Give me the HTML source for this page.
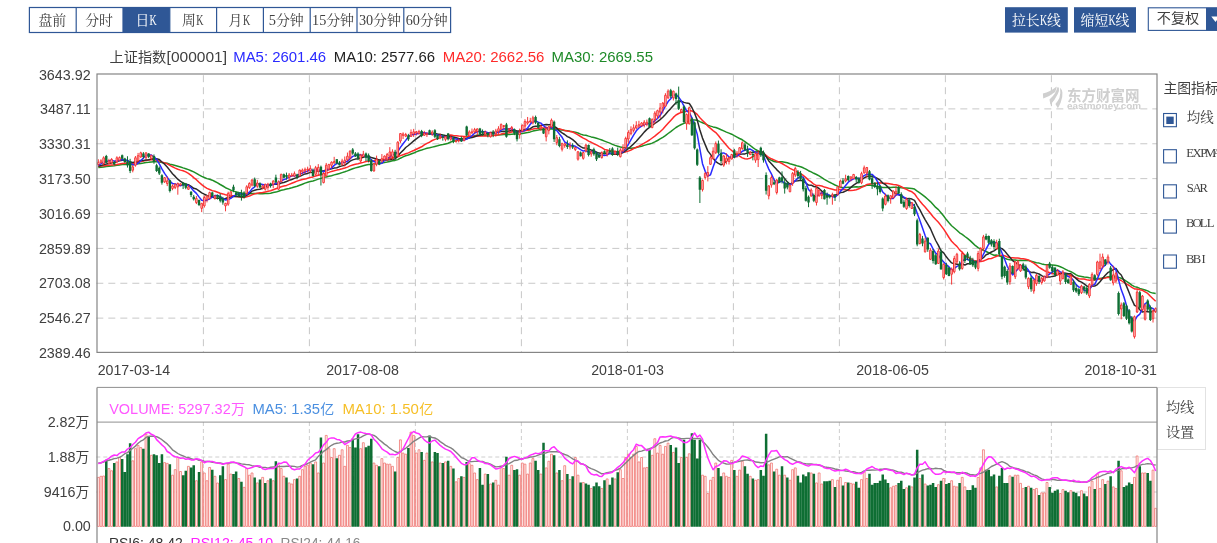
<!DOCTYPE html>
<html><head><meta charset="utf-8"><title>K</title>
<style>html,body{margin:0;padding:0;background:#fff;overflow:hidden}svg{display:block;position:absolute;left:0;top:0;will-change:transform}</style>
</head><body>
<svg width="1217" height="543" viewBox="0 0 1217 543">
<line x1="96.3" y1="108.88" x2="1157" y2="108.88" stroke="#c8c8c8" stroke-width="1" stroke-dasharray="7 5"/>
<line x1="96.3" y1="143.75" x2="1157" y2="143.75" stroke="#c8c8c8" stroke-width="1" stroke-dasharray="7 5"/>
<line x1="96.3" y1="178.62" x2="1157" y2="178.62" stroke="#c8c8c8" stroke-width="1" stroke-dasharray="7 5"/>
<line x1="96.3" y1="213.50" x2="1157" y2="213.50" stroke="#c8c8c8" stroke-width="1" stroke-dasharray="7 5"/>
<line x1="96.3" y1="248.38" x2="1157" y2="248.38" stroke="#c8c8c8" stroke-width="1" stroke-dasharray="7 5"/>
<line x1="96.3" y1="283.25" x2="1157" y2="283.25" stroke="#c8c8c8" stroke-width="1" stroke-dasharray="7 5"/>
<line x1="96.3" y1="318.12" x2="1157" y2="318.12" stroke="#c8c8c8" stroke-width="1" stroke-dasharray="7 5"/>
<line x1="203.40" y1="75.2" x2="203.40" y2="353" stroke="#c8c8c8" stroke-width="1" stroke-dasharray="7 5"/>
<line x1="203.40" y1="422" x2="203.40" y2="526.7" stroke="#c8c8c8" stroke-width="0.9" stroke-dasharray="4 3"/>
<line x1="309.40" y1="75.2" x2="309.40" y2="353" stroke="#c8c8c8" stroke-width="1" stroke-dasharray="7 5"/>
<line x1="309.40" y1="422" x2="309.40" y2="526.7" stroke="#c8c8c8" stroke-width="0.9" stroke-dasharray="4 3"/>
<line x1="415.40" y1="75.2" x2="415.40" y2="353" stroke="#c8c8c8" stroke-width="1" stroke-dasharray="7 5"/>
<line x1="415.40" y1="422" x2="415.40" y2="526.7" stroke="#c8c8c8" stroke-width="0.9" stroke-dasharray="4 3"/>
<line x1="521.40" y1="75.2" x2="521.40" y2="353" stroke="#c8c8c8" stroke-width="1" stroke-dasharray="7 5"/>
<line x1="521.40" y1="422" x2="521.40" y2="526.7" stroke="#c8c8c8" stroke-width="0.9" stroke-dasharray="4 3"/>
<line x1="627.40" y1="75.2" x2="627.40" y2="353" stroke="#c8c8c8" stroke-width="1" stroke-dasharray="7 5"/>
<line x1="627.40" y1="422" x2="627.40" y2="526.7" stroke="#c8c8c8" stroke-width="0.9" stroke-dasharray="4 3"/>
<line x1="733.40" y1="75.2" x2="733.40" y2="353" stroke="#c8c8c8" stroke-width="1" stroke-dasharray="7 5"/>
<line x1="733.40" y1="422" x2="733.40" y2="526.7" stroke="#c8c8c8" stroke-width="0.9" stroke-dasharray="4 3"/>
<line x1="839.40" y1="75.2" x2="839.40" y2="353" stroke="#c8c8c8" stroke-width="1" stroke-dasharray="7 5"/>
<line x1="839.40" y1="422" x2="839.40" y2="526.7" stroke="#c8c8c8" stroke-width="0.9" stroke-dasharray="4 3"/>
<line x1="945.40" y1="75.2" x2="945.40" y2="353" stroke="#c8c8c8" stroke-width="1" stroke-dasharray="7 5"/>
<line x1="945.40" y1="422" x2="945.40" y2="526.7" stroke="#c8c8c8" stroke-width="0.9" stroke-dasharray="4 3"/>
<line x1="1051.40" y1="75.2" x2="1051.40" y2="353" stroke="#c8c8c8" stroke-width="1" stroke-dasharray="7 5"/>
<line x1="1051.40" y1="422" x2="1051.40" y2="526.7" stroke="#c8c8c8" stroke-width="0.9" stroke-dasharray="4 3"/>
<line x1="96.3" y1="457.00" x2="1157" y2="457.00" stroke="#c8c8c8" stroke-width="0.9" stroke-dasharray="4 3"/>
<line x1="96.3" y1="492.00" x2="1157" y2="492.00" stroke="#c8c8c8" stroke-width="0.9" stroke-dasharray="4 3"/>
<text x="1067" y="100.6" font-family="'Liberation Sans', 'Noto Sans CJK SC', sans-serif" font-size="14.5" font-weight="bold" fill="#cfcfcf" textLength="72.6" lengthAdjust="spacingAndGlyphs">东方财富网</text>
<text x="1067" y="109" font-family="Liberation Sans, sans-serif" font-size="8.2" font-weight="bold" fill="#cfcfcf" textLength="74" lengthAdjust="spacingAndGlyphs">eastmoney.com</text>
<path d="M1042.9 93.5Q1050 92 1056.7 86.6Q1056.5 89.5 1055.1 91.9Q1050 96 1043.2 98.6ZM1057.6 86.9L1058.9 87.8Q1059.5 91 1057.9 93.8Q1055 100 1050.4 104.7L1049.5 99.4Q1053 96.5 1054.8 93.5Q1056.7 90 1057.6 86.9ZM1060.1 87.8Q1062 89.5 1062.4 92.5Q1062.9 97 1060.7 102.5Q1059.5 105.5 1057.9 108.2L1055.4 104.1Q1058 101 1059.4 98Q1060.9 94 1060.1 87.8Z" fill="#cfcfcf"/>
<path d="M98.3 167.6 L101.0 167.3 L103.6 166.9 L106.3 166.6 L108.9 166.3 L111.6 165.9 L114.2 165.7 L116.9 165.3 L119.5 164.9 L122.2 164.6 L124.8 164.4 L127.5 164.3 L130.1 164.4 L132.8 164.4 L135.4 164.2 L138.1 163.8 L140.7 163.4 L143.4 163.1 L146.0 162.6 L148.7 162.3 L151.3 161.9 L154.0 161.7 L156.6 161.8 L159.3 162.0 L161.9 162.5 L164.6 162.9 L167.2 163.3 L169.9 164.2 L172.5 164.8 L175.2 165.5 L177.8 166.2 L180.5 167.0 L183.1 167.9 L185.8 168.7 L188.4 169.6 L191.1 170.8 L193.7 171.9 L196.4 173.3 L199.0 174.9 L201.7 176.4 L204.3 177.5 L207.0 178.6 L209.6 179.3 L212.3 180.2 L214.9 181.5 L217.6 182.9 L220.2 184.5 L222.9 186.0 L225.5 187.7 L228.2 188.9 L230.8 190.2 L233.5 191.1 L236.1 191.9 L238.8 192.6 L241.4 193.1 L244.1 193.8 L246.7 194.0 L249.4 193.7 L252.0 193.5 L254.7 193.6 L257.3 193.6 L260.0 193.7 L262.6 193.7 L265.3 193.6 L267.9 193.5 L270.6 193.2 L273.2 192.6 L275.9 192.1 L278.5 191.3 L281.2 190.3 L283.8 189.7 L286.5 189.0 L289.1 188.5 L291.8 187.8 L294.4 187.0 L297.1 186.3 L299.7 185.3 L302.4 184.2 L305.0 183.1 L307.7 182.3 L310.3 181.5 L313.0 181.0 L315.6 180.1 L318.3 179.1 L320.9 178.4 L323.6 177.6 L326.2 176.9 L328.9 176.3 L331.5 175.7 L334.2 174.9 L336.8 174.2 L339.5 173.5 L342.1 172.6 L344.8 171.8 L347.4 170.9 L350.1 169.7 L352.7 168.8 L355.4 167.9 L358.0 167.2 L360.7 166.5 L363.3 165.8 L366.0 165.1 L368.6 164.6 L371.3 164.5 L373.9 164.2 L376.6 163.6 L379.2 163.4 L381.9 163.0 L384.5 162.6 L387.2 162.1 L389.8 161.5 L392.5 160.7 L395.1 160.4 L397.8 159.6 L400.4 158.2 L403.1 156.9 L405.7 155.8 L408.4 155.0 L411.0 154.0 L413.7 153.0 L416.3 151.9 L419.0 150.8 L421.6 150.0 L424.3 149.1 L426.9 148.3 L429.6 147.8 L432.2 147.1 L434.9 146.4 L437.5 145.8 L440.2 145.1 L442.8 144.6 L445.5 143.9 L448.1 143.2 L450.8 142.0 L453.4 141.3 L456.1 140.7 L458.7 139.9 L461.4 139.3 L464.0 138.7 L466.7 138.0 L469.3 137.4 L472.0 136.7 L474.6 135.8 L477.3 135.3 L479.9 135.4 L482.6 135.3 L485.2 135.3 L487.9 135.1 L490.5 135.1 L493.2 135.2 L495.8 135.2 L498.5 135.1 L501.1 134.7 L503.8 134.4 L506.4 134.6 L509.1 134.4 L511.7 134.2 L514.4 134.1 L517.0 134.1 L519.7 134.0 L522.3 133.6 L525.0 133.0 L527.6 132.5 L530.3 131.9 L532.9 131.1 L535.6 130.5 L538.2 130.1 L540.9 129.6 L543.5 129.5 L546.2 129.3 L548.8 129.1 L551.5 128.7 L554.1 129.0 L556.8 129.3 L559.4 129.7 L562.1 130.0 L564.7 130.4 L567.4 130.8 L570.0 131.3 L572.7 131.7 L575.3 132.2 L578.0 133.0 L580.6 134.1 L583.3 135.0 L585.9 135.2 L588.6 136.1 L591.2 136.9 L593.9 137.6 L596.5 138.3 L599.2 139.1 L601.8 140.0 L604.5 141.1 L607.1 142.1 L609.8 143.1 L612.4 144.4 L615.1 145.4 L617.7 146.2 L620.4 147.0 L623.0 147.5 L625.7 147.8 L628.3 148.0 L631.0 148.3 L633.6 147.9 L636.3 147.5 L638.9 146.8 L641.6 146.2 L644.2 145.4 L646.9 144.6 L649.5 144.0 L652.2 143.1 L654.8 141.9 L657.5 140.5 L660.1 138.9 L662.8 137.3 L665.4 135.6 L668.1 133.5 L670.7 131.6 L673.4 129.5 L676.0 127.5 L678.7 125.9 L681.3 124.5 L684.0 123.4 L686.6 122.2 L689.3 120.7 L691.9 120.0 L694.6 119.9 L697.2 120.3 L699.9 121.6 L702.5 122.7 L705.2 123.9 L707.8 125.2 L710.5 126.1 L713.1 126.9 L715.8 127.5 L718.4 128.5 L721.1 129.7 L723.7 130.9 L726.4 132.1 L729.0 133.1 L731.7 134.2 L734.3 135.7 L737.0 137.1 L739.6 138.5 L742.3 139.8 L744.9 141.6 L747.6 143.7 L750.2 145.5 L752.9 147.7 L755.5 149.5 L758.2 151.0 L760.8 152.5 L763.5 153.8 L766.1 156.3 L768.8 158.9 L771.4 160.3 L774.1 161.5 L776.7 162.0 L779.4 161.8 L782.0 161.8 L784.7 162.3 L787.3 162.8 L790.0 163.7 L792.6 164.5 L795.3 165.3 L797.9 166.1 L800.6 166.7 L803.2 167.8 L805.9 169.2 L808.5 170.7 L811.2 171.9 L813.8 173.3 L816.5 174.5 L819.1 175.9 L821.8 177.6 L824.4 179.3 L827.1 180.8 L829.7 182.3 L832.4 183.6 L835.0 185.0 L837.7 186.1 L840.3 187.0 L843.0 187.8 L845.6 187.4 L848.3 187.2 L850.9 187.2 L853.6 186.9 L856.2 186.8 L858.9 186.9 L861.5 186.6 L864.2 185.9 L866.8 185.2 L869.5 185.0 L872.1 185.4 L874.8 186.0 L877.4 186.4 L880.1 186.9 L882.7 187.5 L885.4 187.4 L888.0 187.3 L890.7 187.5 L893.3 187.2 L896.0 187.3 L898.6 187.4 L901.3 187.7 L903.9 187.9 L906.6 188.0 L909.2 188.3 L911.9 188.6 L914.5 189.1 L917.2 191.1 L919.8 192.8 L922.5 194.8 L925.1 196.9 L927.8 199.2 L930.4 201.6 L933.1 204.5 L935.7 207.4 L938.4 209.6 L941.0 212.8 L943.7 216.0 L946.3 219.6 L949.0 222.8 L951.6 225.7 L954.3 228.0 L956.9 230.2 L959.6 232.8 L962.2 234.3 L964.9 236.5 L967.5 238.4 L970.2 240.6 L972.8 243.1 L975.5 245.7 L978.1 247.7 L980.8 249.2 L983.4 250.2 L986.1 251.5 L988.7 252.7 L991.4 254.1 L994.0 255.2 L996.7 255.1 L999.3 255.8 L1002.0 256.9 L1004.6 258.1 L1007.3 259.2 L1009.9 259.7 L1012.6 260.1 L1015.2 260.0 L1017.9 260.4 L1020.5 260.3 L1023.2 260.4 L1025.8 260.5 L1028.5 260.6 L1031.1 261.3 L1033.8 262.0 L1036.4 262.7 L1039.1 263.1 L1041.7 263.9 L1044.4 264.4 L1047.0 264.7 L1049.7 264.8 L1052.3 265.0 L1055.0 265.3 L1057.6 265.8 L1060.3 266.7 L1062.9 267.9 L1065.6 269.3 L1068.2 270.6 L1070.9 271.7 L1073.5 273.1 L1076.2 274.8 L1078.8 276.1 L1081.5 276.4 L1084.1 276.9 L1086.8 277.2 L1089.4 277.8 L1092.1 277.9 L1094.7 278.5 L1097.4 278.5 L1100.0 278.4 L1102.7 278.0 L1105.3 277.6 L1108.0 276.8 L1110.6 276.5 L1113.3 276.4 L1115.9 276.3 L1118.6 277.4 L1121.2 278.3 L1123.9 279.6 L1126.5 281.4 L1129.2 283.2 L1131.8 285.2 L1134.5 286.6 L1137.1 287.3 L1139.8 288.4 L1142.4 289.2 L1145.1 290.0 L1147.7 290.9 L1150.4 292.4 L1153.0 293.1 L1155.7 293.6" fill="none" stroke="#1f8f25" stroke-width="1.5" stroke-linejoin="round"/>
<path d="M98.3 166.4 L101.0 166.1 L103.6 165.7 L106.3 165.5 L108.9 165.2 L111.6 164.9 L114.2 164.8 L116.9 164.4 L119.5 163.9 L122.2 163.5 L124.8 163.2 L127.5 163.1 L130.1 163.3 L132.8 163.3 L135.4 162.8 L138.1 162.2 L140.7 161.5 L143.4 161.1 L146.0 160.4 L148.7 160.0 L151.3 159.7 L154.0 159.7 L156.6 160.4 L159.3 160.9 L161.9 162.0 L164.6 162.9 L167.2 163.8 L169.9 165.4 L172.5 166.8 L175.2 168.1 L177.8 169.2 L180.5 170.1 L183.1 170.8 L185.8 171.9 L188.4 173.3 L191.1 175.3 L193.7 177.6 L196.4 179.7 L199.0 182.3 L201.7 184.6 L204.3 186.7 L207.0 188.4 L209.6 189.5 L212.3 190.6 L214.9 191.3 L217.6 192.3 L220.2 193.3 L222.9 193.9 L225.5 194.7 L228.2 195.2 L230.8 195.6 L233.5 195.9 L236.1 196.4 L238.8 196.8 L241.4 197.3 L244.1 197.4 L246.7 196.8 L249.4 196.1 L252.0 194.8 L254.7 193.9 L257.3 193.2 L260.0 192.8 L262.6 192.5 L265.3 191.9 L267.9 191.3 L270.6 190.7 L273.2 189.7 L275.9 188.7 L278.5 187.7 L281.2 186.7 L283.8 186.0 L286.5 185.4 L289.1 184.4 L291.8 183.3 L294.4 182.2 L297.1 181.1 L299.7 180.3 L302.4 179.6 L305.0 179.1 L307.7 178.2 L310.3 177.5 L313.0 176.9 L315.6 176.0 L318.3 175.2 L320.9 174.7 L323.6 174.1 L326.2 173.3 L328.9 172.4 L331.5 171.4 L334.2 170.8 L336.8 170.1 L339.5 169.5 L342.1 168.8 L344.8 168.0 L347.4 167.1 L350.1 165.9 L352.7 165.0 L355.4 164.3 L358.0 163.8 L360.7 163.1 L363.3 162.4 L366.0 161.5 L368.6 161.2 L371.3 161.3 L373.9 160.8 L376.6 160.1 L379.2 160.0 L381.9 159.7 L384.5 159.4 L387.2 159.1 L389.8 158.5 L392.5 157.8 L395.1 157.6 L397.8 156.7 L400.4 155.6 L403.1 154.7 L405.7 153.8 L408.4 152.9 L411.0 151.6 L413.7 150.5 L416.3 149.3 L419.0 148.0 L421.6 146.8 L424.3 144.9 L426.9 143.4 L429.6 142.2 L432.2 140.5 L434.9 139.4 L437.5 138.6 L440.2 137.7 L442.8 137.0 L445.5 136.2 L448.1 135.3 L450.8 135.1 L453.4 135.5 L456.1 135.8 L458.7 136.1 L461.4 136.2 L464.0 136.4 L466.7 136.6 L469.3 136.6 L472.0 136.6 L474.6 136.3 L477.3 136.1 L479.9 136.1 L482.6 136.1 L485.2 136.1 L487.9 136.0 L490.5 135.7 L493.2 135.6 L495.8 135.2 L498.5 134.8 L501.1 134.1 L503.8 133.5 L506.4 133.3 L509.1 132.7 L511.7 132.0 L514.4 131.6 L517.0 131.8 L519.7 131.6 L522.3 131.3 L525.0 130.7 L527.6 130.3 L530.3 129.9 L532.9 129.1 L535.6 128.6 L538.2 128.4 L540.9 127.9 L543.5 128.0 L546.2 127.7 L548.8 127.5 L551.5 127.0 L554.1 127.8 L556.8 128.4 L559.4 128.8 L562.1 129.6 L564.7 130.4 L567.4 131.1 L570.0 131.4 L572.7 132.1 L575.3 133.3 L578.0 134.8 L580.6 136.5 L583.3 138.1 L585.9 139.4 L588.6 141.1 L591.2 142.3 L593.9 143.7 L596.5 144.9 L599.2 146.4 L601.8 147.7 L604.5 149.4 L607.1 150.0 L609.8 150.7 L612.4 151.1 L615.1 151.6 L617.7 152.1 L620.4 152.2 L623.0 152.3 L625.7 151.9 L628.3 151.1 L631.0 150.0 L633.6 148.6 L636.3 147.3 L638.9 146.2 L641.6 144.6 L644.2 143.2 L646.9 141.6 L649.5 140.0 L652.2 138.0 L654.8 136.1 L657.5 133.9 L660.1 131.7 L662.8 129.3 L665.4 126.3 L668.1 123.3 L670.7 120.4 L673.4 117.4 L676.0 115.0 L678.7 113.5 L681.3 112.4 L684.0 112.0 L686.6 111.3 L689.3 110.4 L691.9 111.0 L694.6 112.2 L697.2 114.4 L699.9 117.7 L702.5 120.4 L705.2 123.1 L707.8 126.1 L710.5 128.4 L713.1 130.6 L715.8 132.6 L718.4 135.5 L721.1 139.0 L723.7 142.0 L726.4 145.3 L729.0 148.2 L731.7 150.5 L734.3 152.9 L737.0 154.5 L739.6 156.2 L742.3 157.9 L744.9 158.7 L747.6 158.9 L750.2 158.2 L752.9 156.5 L755.5 155.2 L758.2 154.2 L760.8 153.3 L763.5 153.4 L766.1 155.4 L768.8 157.5 L771.4 158.8 L774.1 159.9 L776.7 161.1 L779.4 162.3 L782.0 163.5 L784.7 165.2 L787.3 166.7 L790.0 168.3 L792.6 169.6 L795.3 170.9 L797.9 172.2 L800.6 173.5 L803.2 175.4 L805.9 177.6 L808.5 180.1 L811.2 181.9 L813.8 184.2 L816.5 185.6 L819.1 185.6 L821.8 186.0 L824.4 187.1 L827.1 187.7 L829.7 188.6 L832.4 189.2 L835.0 190.0 L837.7 189.9 L840.3 189.6 L843.0 189.5 L845.6 189.8 L848.3 190.4 L850.9 190.4 L853.6 190.2 L856.2 189.7 L858.9 188.8 L861.5 187.4 L864.2 186.2 L866.8 184.6 L869.5 184.1 L872.1 183.8 L874.8 183.5 L877.4 183.0 L880.1 182.7 L882.7 183.2 L885.4 183.3 L888.0 183.5 L890.7 183.9 L893.3 184.4 L896.0 184.8 L898.6 185.5 L901.3 186.7 L903.9 188.2 L906.6 189.4 L909.2 190.8 L911.9 191.8 L914.5 193.8 L917.2 197.6 L919.8 201.0 L922.5 204.2 L925.1 207.0 L927.8 210.2 L930.4 213.2 L933.1 216.7 L935.7 219.5 L938.4 222.2 L941.0 225.6 L943.7 229.1 L946.3 233.2 L949.0 237.5 L951.6 241.2 L954.3 244.0 L956.9 246.4 L959.6 249.9 L962.2 252.2 L964.9 255.2 L967.5 257.3 L970.2 258.3 L972.8 259.9 L975.5 261.1 L978.1 261.7 L980.8 261.6 L983.4 261.0 L986.1 259.9 L988.7 258.8 L991.4 258.5 L994.0 257.4 L996.7 256.3 L999.3 255.3 L1002.0 255.3 L1004.6 255.7 L1007.3 256.9 L1009.9 257.5 L1012.6 257.7 L1015.2 258.1 L1017.9 258.1 L1020.5 258.5 L1023.2 258.7 L1025.8 259.3 L1028.5 259.9 L1031.1 261.6 L1033.8 263.2 L1036.4 265.1 L1039.1 267.3 L1041.7 269.0 L1044.4 270.7 L1047.0 271.6 L1049.7 272.8 L1052.3 273.7 L1055.0 273.6 L1057.6 273.3 L1060.3 272.9 L1062.9 273.2 L1065.6 273.6 L1068.2 274.7 L1070.9 275.4 L1073.5 276.7 L1076.2 277.8 L1078.8 278.7 L1081.5 279.1 L1084.1 279.1 L1086.8 279.7 L1089.4 280.2 L1092.1 279.8 L1094.7 279.9 L1097.4 279.2 L1100.0 279.0 L1102.7 278.5 L1105.3 278.1 L1108.0 277.2 L1110.6 277.7 L1113.3 277.7 L1115.9 277.8 L1118.6 279.4 L1121.2 280.5 L1123.9 282.5 L1126.5 283.9 L1129.2 285.5 L1131.8 287.4 L1134.5 288.9 L1137.1 289.0 L1139.8 289.7 L1142.4 290.3 L1145.1 291.9 L1147.7 293.4 L1150.4 296.3 L1153.0 298.7 L1155.7 301.3" fill="none" stroke="#ff2a2a" stroke-width="1.5" stroke-linejoin="round"/>
<path d="M98.3 166.3 L101.0 165.6 L103.6 164.6 L106.3 164.1 L108.9 163.5 L111.6 162.7 L114.2 162.5 L116.9 161.6 L119.5 160.9 L122.2 160.2 L124.8 160.2 L127.5 160.7 L130.1 162.0 L132.8 162.4 L135.4 162.1 L138.1 161.7 L140.7 160.5 L143.4 160.5 L146.0 160.0 L148.7 159.8 L151.3 159.1 L154.0 158.8 L156.6 158.8 L159.3 159.5 L161.9 162.0 L164.6 164.2 L167.2 167.0 L169.9 170.4 L172.5 173.7 L175.2 176.4 L177.8 179.2 L180.5 181.4 L183.1 182.9 L185.8 184.3 L188.4 184.7 L191.1 186.4 L193.7 188.3 L196.4 189.0 L199.0 190.9 L201.7 192.8 L204.3 194.2 L207.0 195.5 L209.6 196.2 L212.3 197.0 L214.9 197.9 L217.6 198.2 L220.2 198.3 L222.9 198.7 L225.5 198.5 L228.2 197.5 L230.8 197.0 L233.5 196.4 L236.1 196.6 L238.8 196.6 L241.4 196.7 L244.1 196.7 L246.7 195.3 L249.4 193.4 L252.0 191.1 L254.7 190.3 L257.3 189.5 L260.0 189.2 L262.6 188.3 L265.3 187.1 L267.9 185.9 L270.6 184.7 L273.2 184.2 L275.9 184.1 L278.5 184.2 L281.2 183.1 L283.8 182.5 L286.5 181.5 L289.1 180.4 L291.8 179.5 L294.4 178.4 L297.1 177.5 L299.7 176.4 L302.4 175.1 L305.0 173.9 L307.7 173.4 L310.3 172.4 L313.0 172.3 L315.6 171.6 L318.3 170.8 L320.9 171.0 L323.6 170.7 L326.2 170.2 L328.9 169.6 L331.5 168.9 L334.2 168.1 L336.8 167.7 L339.5 166.6 L342.1 165.9 L344.8 165.2 L347.4 163.3 L350.1 161.1 L352.7 159.9 L355.4 159.1 L358.0 158.7 L360.7 158.1 L363.3 157.2 L366.0 156.4 L368.6 156.4 L371.3 157.5 L373.9 158.2 L376.6 159.0 L379.2 160.1 L381.9 160.3 L384.5 160.1 L387.2 160.0 L389.8 159.8 L392.5 159.2 L395.1 158.9 L397.8 156.0 L400.4 153.0 L403.1 150.4 L405.7 147.5 L408.4 145.5 L411.0 143.2 L413.7 140.9 L416.3 138.9 L419.0 136.9 L421.6 134.7 L424.3 133.8 L426.9 133.8 L429.6 133.9 L432.2 133.6 L434.9 133.4 L437.5 134.0 L440.2 134.5 L442.8 135.1 L445.5 135.6 L448.1 135.9 L450.8 136.4 L453.4 137.1 L456.1 137.7 L458.7 138.5 L461.4 139.0 L464.0 138.8 L466.7 138.7 L469.3 138.1 L472.0 137.6 L474.6 136.7 L477.3 135.8 L479.9 135.1 L482.6 134.5 L485.2 133.6 L487.9 133.0 L490.5 132.5 L493.2 132.4 L495.8 132.3 L498.5 132.0 L501.1 131.5 L503.8 131.2 L506.4 131.4 L509.1 130.9 L511.7 130.5 L514.4 130.3 L517.0 131.0 L519.7 130.8 L522.3 130.2 L525.0 129.5 L527.6 129.2 L530.3 128.7 L532.9 126.8 L535.6 126.2 L538.2 126.3 L540.9 125.5 L543.5 125.0 L546.2 124.6 L548.8 124.7 L551.5 124.6 L554.1 126.4 L556.8 128.0 L559.4 130.9 L562.1 132.9 L564.7 134.5 L567.4 136.6 L570.0 137.8 L572.7 139.7 L575.3 141.8 L578.0 144.9 L580.6 146.6 L583.3 148.1 L585.9 148.0 L588.6 149.2 L591.2 150.0 L593.9 150.7 L596.5 152.1 L599.2 153.1 L601.8 153.6 L604.5 153.8 L607.1 153.3 L609.8 153.3 L612.4 154.3 L615.1 153.9 L617.7 154.2 L620.4 153.8 L623.0 152.6 L625.7 150.7 L628.3 148.7 L631.0 146.3 L633.6 143.9 L636.3 141.3 L638.9 138.2 L641.6 135.3 L644.2 132.1 L646.9 129.4 L649.5 127.3 L652.2 125.4 L654.8 123.5 L657.5 121.6 L660.1 119.6 L662.8 117.3 L665.4 114.4 L668.1 111.2 L670.7 108.6 L673.4 105.5 L676.0 102.7 L678.7 101.7 L681.3 101.3 L684.0 102.4 L686.6 103.1 L689.3 103.5 L691.9 107.5 L694.6 113.2 L697.2 120.1 L699.9 130.0 L702.5 138.1 L705.2 144.6 L707.8 150.9 L710.5 154.4 L713.1 158.1 L715.8 161.7 L718.4 163.4 L721.1 164.7 L723.7 163.8 L726.4 160.7 L729.0 158.4 L731.7 156.5 L734.3 155.0 L737.0 154.6 L739.6 154.2 L742.3 154.1 L744.9 153.9 L747.6 153.0 L750.2 152.6 L752.9 152.3 L755.5 151.9 L758.2 151.8 L760.8 151.6 L763.5 152.3 L766.1 156.6 L768.8 160.9 L771.4 163.7 L774.1 166.8 L776.7 169.6 L779.4 172.3 L782.0 175.1 L784.7 178.6 L787.3 181.9 L790.0 184.4 L792.6 182.6 L795.3 180.9 L797.9 180.7 L800.6 180.2 L803.2 181.1 L805.9 183.0 L808.5 185.1 L811.2 185.2 L813.8 186.5 L816.5 186.9 L819.1 188.5 L821.8 191.1 L824.4 193.4 L827.1 195.3 L829.7 196.1 L832.4 195.5 L835.0 194.9 L837.7 194.6 L840.3 192.6 L843.0 192.2 L845.6 191.1 L848.3 189.7 L850.9 187.4 L853.6 185.1 L856.2 183.3 L858.9 182.1 L861.5 179.8 L864.2 177.9 L866.8 176.5 L869.5 176.1 L872.1 176.6 L874.8 177.3 L877.4 178.5 L880.1 180.2 L882.7 183.1 L885.4 184.5 L888.0 187.2 L890.7 190.0 L893.3 192.3 L896.0 193.5 L898.6 194.5 L901.3 196.2 L903.9 197.9 L906.6 198.7 L909.2 198.4 L911.9 199.1 L914.5 200.4 L917.2 205.3 L919.8 209.6 L922.5 214.8 L925.1 219.6 L927.8 224.2 L930.4 228.5 L933.1 234.7 L935.7 240.5 L938.4 245.4 L941.0 250.9 L943.7 252.8 L946.3 256.8 L949.0 260.1 L951.6 262.9 L954.3 263.8 L956.9 264.2 L959.6 265.0 L962.2 264.0 L964.9 265.0 L967.5 263.8 L970.2 263.8 L972.8 262.9 L975.5 262.1 L978.1 260.5 L980.8 259.5 L983.4 257.7 L986.1 254.8 L988.7 253.7 L991.4 252.0 L994.0 250.9 L996.7 248.8 L999.3 247.7 L1002.0 248.6 L1004.6 250.9 L1007.3 254.3 L1009.9 257.2 L1012.6 260.6 L1015.2 262.5 L1017.9 264.2 L1020.5 266.0 L1023.2 268.6 L1025.8 270.9 L1028.5 271.1 L1031.1 272.4 L1033.8 272.2 L1036.4 273.1 L1039.1 274.0 L1041.7 275.6 L1044.4 277.1 L1047.0 277.1 L1049.7 277.1 L1052.3 276.4 L1055.0 276.1 L1057.6 274.2 L1060.3 273.7 L1062.9 273.3 L1065.6 273.3 L1068.2 273.8 L1070.9 273.8 L1073.5 276.3 L1076.2 278.6 L1078.8 281.0 L1081.5 282.1 L1084.1 283.9 L1086.8 285.8 L1089.4 287.1 L1092.1 286.3 L1094.7 286.0 L1097.4 284.6 L1100.0 281.8 L1102.7 278.3 L1105.3 275.3 L1108.0 272.4 L1110.6 271.5 L1113.3 269.6 L1115.9 268.5 L1118.6 272.5 L1121.2 275.0 L1123.9 280.4 L1126.5 286.1 L1129.2 292.7 L1131.8 299.4 L1134.5 305.4 L1137.1 306.6 L1139.8 309.8 L1142.4 312.1 L1145.1 311.3 L1147.7 311.7 L1150.4 312.1 L1153.0 311.4 L1155.7 309.9" fill="none" stroke="#2b2b2b" stroke-width="1.5" stroke-linejoin="round"/>
<path d="M98.3 165.1 L101.0 163.9 L103.6 162.2 L106.3 161.7 L108.9 160.9 L111.6 160.3 L114.2 161.1 L116.9 161.1 L119.5 160.0 L122.2 159.6 L124.8 160.1 L127.5 160.2 L130.1 162.9 L132.8 164.8 L135.4 164.6 L138.1 163.3 L140.7 160.8 L143.4 158.0 L146.0 155.2 L148.7 155.0 L151.3 155.0 L154.0 156.8 L156.6 159.6 L159.3 163.8 L161.9 168.9 L164.6 173.4 L167.2 177.2 L169.9 181.1 L172.5 183.6 L175.2 184.0 L177.8 185.1 L180.5 185.7 L183.1 184.6 L185.8 184.9 L188.4 185.4 L191.1 187.8 L193.7 190.9 L196.4 193.4 L199.0 196.9 L201.7 200.2 L204.3 200.7 L207.0 200.0 L209.6 198.9 L212.3 197.1 L214.9 195.6 L217.6 195.6 L220.2 196.5 L222.9 198.5 L225.5 200.0 L228.2 199.5 L230.8 198.4 L233.5 196.2 L236.1 194.8 L238.8 193.3 L241.4 193.9 L244.1 195.1 L246.7 194.4 L249.4 192.1 L252.0 188.9 L254.7 186.8 L257.3 183.8 L260.0 184.0 L262.6 184.5 L265.3 185.3 L267.9 185.0 L270.6 185.6 L273.2 184.3 L275.9 183.6 L278.5 183.1 L281.2 181.2 L283.8 179.5 L286.5 178.7 L289.1 177.2 L291.8 175.8 L294.4 175.7 L297.1 175.5 L299.7 174.1 L302.4 173.1 L305.0 172.0 L307.7 171.1 L310.3 169.4 L313.0 170.6 L315.6 170.1 L318.3 169.7 L320.9 170.9 L323.6 171.9 L326.2 169.8 L328.9 169.1 L331.5 168.1 L334.2 165.4 L336.8 163.4 L339.5 163.4 L342.1 162.7 L344.8 162.3 L347.4 161.3 L350.1 158.8 L352.7 156.4 L355.4 155.5 L358.0 155.1 L360.7 154.9 L363.3 155.6 L366.0 156.4 L368.6 157.3 L371.3 159.8 L373.9 161.5 L376.6 162.5 L379.2 163.8 L381.9 163.3 L384.5 160.4 L387.2 158.5 L389.8 157.1 L392.5 154.6 L395.1 154.4 L397.8 151.6 L400.4 147.4 L403.1 143.8 L405.7 140.4 L408.4 136.7 L411.0 134.8 L413.7 134.4 L416.3 133.9 L419.0 133.3 L421.6 132.7 L424.3 132.8 L426.9 133.2 L429.6 133.8 L432.2 133.9 L434.9 134.0 L437.5 135.3 L440.2 135.7 L442.8 136.4 L445.5 137.4 L448.1 137.9 L450.8 137.4 L453.4 138.5 L456.1 139.0 L458.7 139.7 L461.4 140.2 L464.0 140.1 L466.7 139.0 L469.3 137.3 L472.0 135.6 L474.6 133.2 L477.3 131.5 L479.9 131.3 L482.6 131.7 L485.2 131.7 L487.9 132.8 L490.5 133.5 L493.2 133.5 L495.8 133.0 L498.5 132.3 L501.1 130.2 L503.8 128.8 L506.4 129.3 L509.1 128.8 L511.7 128.6 L514.4 130.4 L517.0 133.2 L519.7 132.3 L522.3 131.6 L525.0 130.4 L527.6 128.0 L530.3 124.3 L532.9 121.4 L535.6 120.9 L538.2 122.2 L540.9 123.1 L543.5 125.6 L546.2 127.8 L548.8 128.5 L551.5 127.0 L554.1 129.7 L556.8 130.5 L559.4 134.0 L562.1 137.3 L564.7 142.0 L567.4 143.5 L570.0 145.2 L572.7 145.5 L575.3 146.3 L578.0 147.9 L580.6 149.7 L583.3 151.1 L585.9 150.6 L588.6 152.1 L591.2 152.1 L593.9 151.7 L596.5 153.0 L599.2 155.5 L601.8 155.0 L604.5 155.4 L607.1 154.9 L609.8 153.5 L612.4 153.0 L615.1 152.8 L617.7 152.9 L620.4 152.6 L623.0 151.7 L625.7 148.4 L628.3 144.5 L631.0 139.6 L633.6 135.2 L636.3 130.8 L638.9 128.0 L641.6 126.1 L644.2 124.6 L646.9 123.6 L649.5 123.8 L652.2 122.8 L654.8 120.8 L657.5 118.5 L660.1 115.6 L662.8 110.8 L665.4 106.0 L668.1 101.6 L670.7 98.7 L673.4 95.4 L676.0 94.6 L678.7 97.3 L681.3 101.0 L684.0 106.1 L686.6 110.8 L689.3 112.5 L691.9 117.8 L694.6 125.5 L697.2 134.1 L699.9 149.1 L702.5 163.7 L705.2 171.3 L707.8 176.2 L710.5 174.8 L713.1 167.1 L715.8 159.7 L718.4 155.5 L721.1 153.2 L723.7 152.9 L726.4 154.3 L729.0 157.1 L731.7 157.4 L734.3 156.8 L737.0 156.2 L739.6 154.1 L742.3 151.2 L744.9 150.3 L747.6 149.3 L750.2 149.1 L752.9 150.6 L755.5 152.7 L758.2 153.4 L760.8 153.9 L763.5 155.5 L766.1 162.7 L768.8 169.1 L771.4 173.9 L774.1 179.7 L776.7 183.7 L779.4 182.0 L782.0 181.1 L784.7 183.3 L787.3 184.0 L790.0 185.0 L792.6 183.2 L795.3 180.6 L797.9 178.1 L800.6 176.4 L803.2 177.3 L805.9 182.7 L808.5 189.5 L811.2 192.3 L813.8 196.7 L816.5 196.5 L819.1 194.3 L821.8 192.7 L824.4 194.5 L827.1 193.9 L829.7 195.7 L832.4 196.6 L835.0 197.2 L837.7 194.7 L840.3 191.4 L843.0 188.7 L845.6 185.5 L848.3 182.2 L850.9 180.2 L853.6 178.9 L856.2 178.0 L858.9 178.8 L861.5 177.4 L864.2 175.6 L866.8 174.2 L869.5 174.2 L872.1 174.4 L874.8 177.1 L877.4 181.4 L880.1 186.2 L882.7 192.0 L885.4 194.5 L888.0 197.3 L890.7 198.6 L893.3 198.4 L896.0 195.0 L898.6 194.5 L901.3 195.0 L903.9 197.2 L906.6 198.9 L909.2 201.8 L911.9 203.7 L914.5 205.8 L917.2 213.3 L919.8 220.3 L922.5 227.9 L925.1 235.5 L927.8 242.6 L930.4 243.7 L933.1 249.0 L935.7 253.2 L938.4 255.2 L941.0 259.1 L943.7 262.0 L946.3 264.6 L949.0 266.9 L951.6 270.6 L954.3 268.4 L956.9 266.4 L959.6 265.4 L962.2 261.0 L964.9 259.3 L967.5 259.1 L970.2 261.1 L972.8 260.3 L975.5 263.1 L978.1 261.6 L980.8 259.8 L983.4 254.3 L986.1 249.2 L988.7 244.2 L991.4 242.4 L994.0 242.1 L996.7 243.2 L999.3 246.2 L1002.0 253.0 L1004.6 259.3 L1007.3 266.5 L1009.9 271.1 L1012.6 274.9 L1015.2 271.9 L1017.9 269.1 L1020.5 265.6 L1023.2 266.1 L1025.8 266.9 L1028.5 270.3 L1031.1 275.8 L1033.8 278.8 L1036.4 280.1 L1039.1 281.0 L1041.7 281.0 L1044.4 278.4 L1047.0 275.5 L1049.7 274.0 L1052.3 271.8 L1055.0 271.2 L1057.6 270.0 L1060.3 271.9 L1062.9 272.7 L1065.6 274.9 L1068.2 276.5 L1070.9 277.5 L1073.5 280.7 L1076.2 284.6 L1078.8 287.1 L1081.5 287.6 L1084.1 290.3 L1086.8 291.0 L1089.4 289.5 L1092.1 285.5 L1094.7 284.4 L1097.4 278.9 L1100.0 272.5 L1102.7 267.1 L1105.3 265.1 L1108.0 260.4 L1110.6 264.1 L1113.3 266.7 L1115.9 270.0 L1118.6 280.0 L1121.2 289.6 L1123.9 296.7 L1126.5 305.5 L1129.2 315.4 L1131.8 318.9 L1134.5 321.2 L1137.1 316.4 L1139.8 314.2 L1142.4 308.8 L1145.1 303.7 L1147.7 302.2 L1150.4 307.8 L1153.0 308.5 L1155.7 310.9" fill="none" stroke="#2a2aff" stroke-width="1.5" stroke-linejoin="round"/>
<path d="M98.33 159.25V162.32M98.33 164.53V165.48M100.98 159.24V160.77M100.98 162.54V163.55M103.62 156.32V157.76M103.62 163.60V164.99M108.92 158.81V160.95M108.92 163.45V163.91M111.58 158.14V159.42M111.58 162.77V163.89M116.88 156.29V157.76M116.88 161.94V163.19M119.53 156.46V157.57M119.53 160.31V161.04M132.78 165.07V166.88M132.78 170.23V172.34M135.43 156.00V157.76M135.43 165.26V166.70M138.07 152.93V155.62M138.07 160.83V161.90M140.72 151.70V152.79M140.72 156.96V157.74M146.03 152.43V152.79M146.03 157.79V159.09M151.32 154.88V155.28M151.32 158.62V160.06M164.57 177.24V177.66M164.57 181.84V182.91M167.22 176.45V180.88M167.22 183.58V186.10M172.53 184.41V185.96M172.53 188.47V190.23M175.18 183.26V184.30M175.18 187.64V189.13M177.82 182.51V183.47M177.82 186.81V194.70M180.47 183.11V183.72M180.47 185.12V185.97M188.43 184.94V186.78M188.43 189.30V189.98M196.38 195.98V198.39M196.38 202.57V204.07M201.68 202.87V203.37M201.68 208.37V212.10M204.32 195.55V197.56M204.32 205.89V207.62M206.97 195.12V195.87M206.97 199.62V202.38M209.62 191.60V192.59M209.62 198.42V199.78M214.93 194.89V195.91M214.93 198.42V199.63M225.52 202.79V203.37M225.52 205.89V211.30M228.18 191.65V193.42M228.18 204.23V205.82M230.82 191.39V191.76M230.82 195.93V197.49M246.73 185.17V186.73M246.73 193.40V195.09M249.38 182.25V183.47M249.38 187.64V188.94M252.02 178.90V180.10M252.02 185.11V186.47M257.32 179.90V182.97M257.32 186.24V187.88M262.62 184.71V185.95M262.62 187.78V189.43M265.27 183.69V184.25M265.27 189.25V190.61M267.93 182.82V184.23M267.93 187.43V189.82M273.23 180.08V181.18M273.23 184.25V188.12M278.52 180.48V181.76M278.52 189.25V189.84M281.18 173.78V174.30M281.18 181.79V182.31M289.12 173.01V175.01M289.12 177.49V181.13M291.77 172.90V175.01M291.77 176.14V176.51M294.43 171.47V173.62M294.43 176.09V176.66M299.73 169.59V170.15M299.73 175.98V176.39M302.38 168.53V170.14M302.38 171.86V174.16M305.02 167.57V169.35M305.02 170.81V173.38M307.68 166.70V169.06M307.68 169.91V172.71M310.32 165.33V168.34M310.32 170.91V172.93M315.62 165.91V167.66M315.62 174.33V175.39M318.27 164.11V167.39M318.27 171.19V175.28M323.57 172.26V173.47M323.57 182.62V183.38M326.23 162.94V165.18M326.23 175.98V176.87M328.88 163.85V164.45M328.88 169.26V170.57M331.52 161.39V162.21M331.52 165.31V168.01M334.18 156.84V161.52M334.18 163.01V163.62M342.12 158.79V161.09M342.12 164.44V165.72M344.77 156.47V160.18M344.77 162.58V166.48M347.43 152.55V156.24M347.43 159.86V160.93M350.07 150.41V151.08M350.07 157.74V159.36M360.67 153.80V155.23M360.67 161.06V162.46M363.32 150.88V154.21M363.32 156.49V157.17M373.92 162.89V163.52M373.92 171.01V171.53M376.57 155.61V159.22M376.57 164.13V166.24M381.88 154.04V158.62M381.88 161.15V162.51M384.52 155.46V156.08M384.52 159.53V160.85M387.17 152.94V154.40M387.17 159.40V161.17M389.82 147.12V151.93M389.82 156.17V160.06M392.47 149.30V151.81M392.47 156.70V159.92M397.77 141.20V142.20M397.77 156.30V157.00M400.42 133.18V133.52M400.42 141.01V143.00M403.07 132.33V133.97M403.07 135.58V139.02M405.72 132.87V134.55M405.72 136.20V137.14M411.02 129.44V132.47M411.02 136.49V136.98M413.67 128.89V131.72M413.67 134.06V136.97M416.32 130.91V131.66M416.32 132.92V135.52M418.97 129.82V131.50M418.97 133.62V134.46M424.27 130.85V133.19M424.27 135.37V135.74M426.92 132.20V133.66M426.92 134.39V136.93M432.22 130.31V132.09M432.22 134.11V135.91M440.17 133.49V136.00M440.17 137.14V139.27M445.47 136.43V136.77M445.47 139.38V141.32M450.77 136.07V137.24M450.77 139.27V140.72M456.07 139.51V140.44M456.07 141.50V142.72M458.72 138.64V140.24M458.72 140.96V142.43M464.02 136.05V137.14M464.02 140.50V141.45M469.32 130.27V131.86M469.32 136.03V136.61M471.97 128.56V131.76M471.97 132.97V133.78M474.62 127.88V129.57M474.62 132.00V133.35M477.27 128.34V128.94M477.27 131.49V135.15M485.22 130.51V131.98M485.22 134.19V135.16M490.52 131.85V132.69M490.52 136.86V137.41M495.82 128.83V130.98M495.82 133.75V136.70M498.47 126.22V128.74M498.47 131.16V134.04M501.12 123.48V124.40M501.12 129.40V129.72M503.77 125.13V125.58M503.77 126.53V129.09M509.07 128.26V128.64M509.07 129.50V131.89M511.72 125.96V127.41M511.72 128.99V131.27M519.67 128.57V132.35M519.67 134.73V138.66M522.33 124.61V125.23M522.33 131.06V132.24M524.98 119.16V121.47M524.98 126.16V130.15M527.62 116.98V121.61M527.62 123.08V124.75M530.27 117.82V120.95M530.27 121.88V123.07M532.92 115.77V117.76M532.92 122.77V124.39M540.88 124.87V126.21M540.88 128.18V130.81M546.17 126.47V128.49M546.17 136.81V141.40M548.83 125.79V126.72M548.83 130.65V134.41M551.48 118.50V120.20M551.48 126.86V127.94M556.77 135.01V137.61M556.77 142.62V145.28M562.08 142.78V143.42M562.08 149.25V151.46M564.73 142.93V143.80M564.73 145.65V147.79M570.02 142.20V145.76M570.02 146.91V149.55M575.33 146.85V147.58M575.33 149.61V151.08M577.98 151.31V151.71M577.98 159.20V160.62M583.27 151.95V152.54M583.27 158.37V159.64M585.92 143.58V145.08M585.92 150.91V152.57M591.23 151.14V151.64M591.23 153.98V156.75M601.83 151.27V152.54M601.83 157.54V158.67M607.12 149.96V151.45M607.12 154.46V156.54M615.08 150.45V151.78M615.08 153.75V154.98M620.38 148.29V150.05M620.38 156.71V157.44M623.02 144.21V147.76M623.02 150.97V151.65M625.68 136.71V138.44M625.68 147.59V149.29M628.33 130.25V132.35M628.33 138.98V143.40M630.98 126.32V129.63M630.98 133.66V135.30M633.62 124.33V127.75M633.62 130.35V132.43M636.27 121.23V125.69M636.27 127.94V129.28M638.93 120.77V124.60M638.93 126.08V127.93M641.58 122.08V123.03M641.58 125.69V126.83M644.23 120.11V122.14M644.23 125.05V127.35M646.88 119.56V122.30M646.88 124.08V126.27M652.18 118.50V119.30M652.18 127.60V128.20M654.83 111.22V113.14M654.83 119.59V124.12M657.48 109.67V110.70M657.48 115.88V118.60M660.12 103.01V107.94M660.12 112.21V118.08M662.77 102.28V103.01M662.77 107.72V113.42M665.43 93.22V95.33M665.43 106.13V107.24M668.08 89.36V91.18M668.08 97.84V98.89M673.38 90.66V91.18M673.38 97.84V100.49M681.33 108.50V109.50M681.33 112.00V113.00M686.62 113.50V114.40M686.62 123.80V129.80M689.27 106.50V107.70M689.27 123.80V124.50M702.52 179.50V180.50M702.52 189.60V191.50M705.18 172.26V173.42M705.18 177.59V179.59M707.83 166.09V172.49M707.83 175.76V181.38M710.48 155.58V157.66M710.48 164.33V165.02M713.12 147.28V151.19M713.12 158.85V159.21M715.77 141.44V143.57M715.77 152.72V154.07M723.73 154.89V156.01M723.73 165.16V166.83M726.38 153.32V158.26M726.38 161.53V164.34M729.02 156.89V157.44M729.02 161.52V164.51M731.68 153.89V154.47M731.68 159.01V159.43M736.98 150.98V153.16M736.98 154.49V157.75M739.62 147.29V147.71M739.62 153.55V154.35M742.27 141.37V142.74M742.27 148.57V149.89M750.23 151.32V152.13M750.23 154.52V155.19M755.52 151.90V153.52M755.52 160.18V162.77M758.18 150.46V153.50M758.18 159.62V167.05M768.77 185.23V185.86M768.77 195.84V199.36M771.43 175.28V177.56M771.43 185.06V187.66M776.73 178.77V180.05M776.73 192.52V194.46M789.98 184.45V185.03M789.98 191.69V192.27M792.62 172.01V173.42M792.62 183.40V185.89M795.27 166.63V168.44M795.27 175.11V177.18M811.18 188.42V190.00M811.18 195.84V196.90M816.48 186.03V188.34M816.48 202.47V205.50M819.12 189.44V190.00M819.12 195.84V196.65M821.77 192.18V194.12M821.77 195.61V199.09M832.38 192.72V194.77M832.38 196.33V204.70M837.68 186.31V186.69M837.68 194.18V195.69M840.33 179.55V181.08M840.33 186.91V187.45M845.62 174.71V178.92M845.62 181.07V182.39M850.93 176.31V176.83M850.93 178.38V181.33M853.58 173.94V174.45M853.58 178.62V179.08M861.52 171.76V173.62M861.52 182.77V184.17M864.18 165.55V167.81M864.18 172.82V173.73M866.83 166.98V167.51M866.83 173.05V177.74M885.38 193.68V196.01M885.38 204.33V205.43M890.68 195.31V195.72M890.68 198.55V203.73M893.33 190.44V191.03M893.33 197.69V198.47M895.98 186.33V191.21M895.98 193.53V195.94M906.58 197.48V199.32M906.58 208.47V209.90M911.88 201.98V202.64M911.88 208.47V208.93M919.83 232.88V234.42M919.83 243.57V244.36M925.12 237.65V241.06M925.12 251.86V252.46M930.43 248.24V250.18M930.43 259.33V260.08M938.38 248.49V251.01M938.38 263.47V263.80M943.68 263.28V264.27M943.68 277.57V279.45M951.62 267.45V269.25M951.62 274.25V284.60M954.27 255.81V258.47M954.27 271.76V273.35M956.93 252.83V254.32M956.93 261.81V264.00M962.23 251.51V253.49M962.23 268.45V269.73M978.12 250.86V253.49M978.12 268.45V271.30M980.77 247.09V248.52M980.77 260.16V260.48M983.43 234.92V236.91M983.43 248.55V251.34M996.68 239.75V242.71M996.68 248.55V249.90M1009.93 263.00V265.93M1009.93 281.71V284.72M1015.23 261.35V261.78M1015.23 276.74V279.00M1017.88 259.93V261.78M1017.88 268.45V270.15M1020.52 263.95V265.10M1020.52 270.93V271.92M1028.47 277.35V278.37M1028.47 286.69V289.13M1033.77 279.37V280.20M1033.77 291.01V293.70M1036.42 273.97V275.23M1036.42 283.55V285.80M1041.72 277.02V278.37M1041.72 282.54V284.55M1044.38 275.44V276.71M1044.38 280.89V281.77M1047.02 264.44V265.28M1047.02 276.91V278.25M1057.62 268.99V270.91M1057.62 275.08V275.42M1060.27 272.38V274.40M1060.27 281.06V284.80M1062.92 270.07V271.91M1062.92 278.57V279.44M1070.88 273.91V276.06M1070.88 284.38V284.95M1081.47 284.72V286.01M1081.47 292.67V294.02M1089.42 283.17V284.35M1089.42 295.98V298.09M1092.08 272.36V274.40M1092.08 284.38V287.04M1097.38 260.72V261.96M1097.38 274.43V276.41M1100.02 253.66V261.75M1100.02 268.53V271.01M1102.67 253.60V256.98M1102.67 266.13V268.39M1107.97 254.48V256.98M1107.97 261.99V264.47M1113.27 265.82V274.89M1113.27 283.03V285.44M1115.92 271.76V273.57M1115.92 281.06V283.34M1121.22 302.50V305.00M1121.22 309.00V319.30M1134.47 315.50V316.70M1134.47 336.70V338.60M1137.12 289.00V292.00M1137.12 312.00V313.00M1142.42 295.00V296.10M1142.42 309.60V311.00M1145.08 304.00V305.80M1145.08 319.30V320.50M1153.03 309.50V310.90M1153.03 318.70V322.50M1155.67 307.50V308.40M1155.67 311.60V313.00" stroke="#f52222" stroke-width="0.9" fill="none"/>
<path d="M97.55 162.32h1.55v2.21h-1.55zM100.20 160.77h1.55v1.77h-1.55zM102.85 157.76h1.55v5.83h-1.55zM108.15 160.95h1.55v2.50h-1.55zM110.80 159.42h1.55v3.35h-1.55zM116.10 157.76h1.55v4.18h-1.55zM118.75 157.57h1.55v2.74h-1.55zM132.00 166.88h1.55v3.35h-1.55zM134.65 157.76h1.55v7.49h-1.55zM137.30 155.62h1.55v5.21h-1.55zM139.95 152.79h1.55v4.18h-1.55zM145.25 152.79h1.55v5.00h-1.55zM150.55 155.28h1.55v3.35h-1.55zM163.80 177.66h1.55v4.18h-1.55zM166.45 180.88h1.55v2.70h-1.55zM171.75 185.96h1.55v2.52h-1.55zM174.40 184.30h1.55v3.35h-1.55zM177.05 183.47h1.55v3.35h-1.55zM179.70 183.72h1.55v1.40h-1.55zM187.65 186.78h1.55v2.52h-1.55zM195.60 198.39h1.55v4.18h-1.55zM200.90 203.37h1.55v5.00h-1.55zM203.55 197.56h1.55v8.32h-1.55zM206.20 195.87h1.55v3.76h-1.55zM208.85 192.59h1.55v5.83h-1.55zM214.15 195.91h1.55v2.52h-1.55zM224.75 203.37h1.55v2.52h-1.55zM227.40 193.42h1.55v10.81h-1.55zM230.05 191.76h1.55v4.18h-1.55zM245.95 186.73h1.55v6.66h-1.55zM248.60 183.47h1.55v4.18h-1.55zM251.25 180.10h1.55v5.00h-1.55zM256.55 182.97h1.55v3.28h-1.55zM261.85 185.95h1.55v1.83h-1.55zM264.50 184.25h1.55v5.00h-1.55zM267.15 184.23h1.55v3.20h-1.55zM272.45 181.18h1.55v3.07h-1.55zM277.75 181.76h1.55v7.49h-1.55zM280.40 174.30h1.55v7.49h-1.55zM288.35 175.01h1.55v2.48h-1.55zM291.00 175.01h1.55v1.13h-1.55zM293.65 173.62h1.55v2.47h-1.55zM298.95 170.15h1.55v5.83h-1.55zM301.60 170.14h1.55v1.72h-1.55zM304.25 169.35h1.55v1.46h-1.55zM306.90 169.06h1.55v0.85h-1.55zM309.55 168.34h1.55v2.56h-1.55zM314.85 167.66h1.55v6.66h-1.55zM317.50 167.39h1.55v3.80h-1.55zM322.80 173.47h1.55v9.15h-1.55zM325.45 165.18h1.55v10.81h-1.55zM328.10 164.45h1.55v4.80h-1.55zM330.75 162.21h1.55v3.10h-1.55zM333.40 161.52h1.55v1.49h-1.55zM341.35 161.09h1.55v3.35h-1.55zM344.00 160.18h1.55v2.39h-1.55zM346.65 156.24h1.55v3.62h-1.55zM349.30 151.08h1.55v6.66h-1.55zM359.90 155.23h1.55v5.83h-1.55zM362.55 154.21h1.55v2.28h-1.55zM373.15 163.52h1.55v7.49h-1.55zM375.80 159.22h1.55v4.90h-1.55zM381.10 158.62h1.55v2.53h-1.55zM383.75 156.08h1.55v3.45h-1.55zM386.40 154.40h1.55v5.00h-1.55zM389.05 151.93h1.55v4.24h-1.55zM391.70 151.81h1.55v4.89h-1.55zM397.00 142.20h1.55v14.10h-1.55zM399.65 133.52h1.55v7.49h-1.55zM402.30 133.97h1.55v1.61h-1.55zM404.95 134.55h1.55v1.65h-1.55zM410.25 132.47h1.55v4.01h-1.55zM412.90 131.72h1.55v2.35h-1.55zM415.55 131.66h1.55v1.26h-1.55zM418.20 131.50h1.55v2.12h-1.55zM423.50 133.19h1.55v2.18h-1.55zM426.15 133.66h1.55v0.74h-1.55zM431.45 132.09h1.55v2.02h-1.55zM439.40 136.00h1.55v1.13h-1.55zM444.70 136.77h1.55v2.61h-1.55zM450.00 137.24h1.55v2.03h-1.55zM455.30 140.44h1.55v1.06h-1.55zM457.95 140.24h1.55v0.71h-1.55zM463.25 137.14h1.55v3.36h-1.55zM468.55 131.86h1.55v4.18h-1.55zM471.20 131.76h1.55v1.21h-1.55zM473.85 129.57h1.55v2.43h-1.55zM476.50 128.94h1.55v2.55h-1.55zM484.45 131.98h1.55v2.20h-1.55zM489.75 132.69h1.55v4.18h-1.55zM495.05 130.98h1.55v2.77h-1.55zM497.70 128.74h1.55v2.42h-1.55zM500.35 124.40h1.55v5.00h-1.55zM503.00 125.58h1.55v0.95h-1.55zM508.30 128.64h1.55v0.87h-1.55zM510.95 127.41h1.55v1.58h-1.55zM518.90 132.35h1.55v2.38h-1.55zM521.55 125.23h1.55v5.83h-1.55zM524.20 121.47h1.55v4.69h-1.55zM526.85 121.61h1.55v1.47h-1.55zM529.50 120.95h1.55v0.93h-1.55zM532.15 117.76h1.55v5.00h-1.55zM540.10 126.21h1.55v1.98h-1.55zM545.40 128.49h1.55v8.32h-1.55zM548.05 126.72h1.55v3.92h-1.55zM550.70 120.20h1.55v6.66h-1.55zM556.00 137.61h1.55v5.00h-1.55zM561.30 143.42h1.55v5.83h-1.55zM563.95 143.80h1.55v1.85h-1.55zM569.25 145.76h1.55v1.16h-1.55zM574.55 147.58h1.55v2.03h-1.55zM577.20 151.71h1.55v7.49h-1.55zM582.50 152.54h1.55v5.83h-1.55zM585.15 145.08h1.55v5.83h-1.55zM590.45 151.64h1.55v2.34h-1.55zM601.05 152.54h1.55v5.00h-1.55zM606.35 151.45h1.55v3.01h-1.55zM614.30 151.78h1.55v1.97h-1.55zM619.60 150.05h1.55v6.66h-1.55zM622.25 147.76h1.55v3.21h-1.55zM624.90 138.44h1.55v9.15h-1.55zM627.55 132.35h1.55v6.64h-1.55zM630.20 129.63h1.55v4.02h-1.55zM632.85 127.75h1.55v2.60h-1.55zM635.50 125.69h1.55v2.25h-1.55zM638.15 124.60h1.55v1.48h-1.55zM640.80 123.03h1.55v2.66h-1.55zM643.45 122.14h1.55v2.90h-1.55zM646.10 122.30h1.55v1.78h-1.55zM651.40 119.30h1.55v8.30h-1.55zM654.05 113.14h1.55v6.46h-1.55zM656.70 110.70h1.55v5.18h-1.55zM659.35 107.94h1.55v4.26h-1.55zM662.00 103.01h1.55v4.71h-1.55zM664.65 95.33h1.55v10.81h-1.55zM667.30 91.18h1.55v6.66h-1.55zM672.60 91.18h1.55v6.66h-1.55zM680.55 109.50h1.55v2.50h-1.55zM685.85 114.40h1.55v9.40h-1.55zM688.50 107.70h1.55v16.10h-1.55zM701.75 180.50h1.55v9.10h-1.55zM704.40 173.42h1.55v4.18h-1.55zM707.05 172.49h1.55v3.26h-1.55zM709.70 157.66h1.55v6.66h-1.55zM712.35 151.19h1.55v7.66h-1.55zM715.00 143.57h1.55v9.15h-1.55zM722.95 156.01h1.55v9.15h-1.55zM725.60 158.26h1.55v3.27h-1.55zM728.25 157.44h1.55v4.08h-1.55zM730.90 154.47h1.55v4.54h-1.55zM736.20 153.16h1.55v1.33h-1.55zM738.85 147.71h1.55v5.83h-1.55zM741.50 142.74h1.55v5.83h-1.55zM749.45 152.13h1.55v2.39h-1.55zM754.75 153.52h1.55v6.66h-1.55zM757.40 153.50h1.55v6.12h-1.55zM768.00 185.86h1.55v9.98h-1.55zM770.65 177.56h1.55v7.49h-1.55zM775.95 180.05h1.55v12.47h-1.55zM789.20 185.03h1.55v6.66h-1.55zM791.85 173.42h1.55v9.98h-1.55zM794.50 168.44h1.55v6.66h-1.55zM810.40 190.00h1.55v5.83h-1.55zM815.70 188.34h1.55v14.13h-1.55zM818.35 190.00h1.55v5.83h-1.55zM821.00 194.12h1.55v1.49h-1.55zM831.60 194.77h1.55v1.56h-1.55zM836.90 186.69h1.55v7.49h-1.55zM839.55 181.08h1.55v5.83h-1.55zM844.85 178.92h1.55v2.14h-1.55zM850.15 176.83h1.55v1.55h-1.55zM852.80 174.45h1.55v4.18h-1.55zM860.75 173.62h1.55v9.15h-1.55zM863.40 167.81h1.55v5.00h-1.55zM866.05 167.51h1.55v5.55h-1.55zM884.60 196.01h1.55v8.32h-1.55zM889.90 195.72h1.55v2.83h-1.55zM892.55 191.03h1.55v6.66h-1.55zM895.20 191.21h1.55v2.31h-1.55zM905.80 199.32h1.55v9.15h-1.55zM911.10 202.64h1.55v5.83h-1.55zM919.05 234.42h1.55v9.15h-1.55zM924.35 241.06h1.55v10.81h-1.55zM929.65 250.18h1.55v9.15h-1.55zM937.60 251.01h1.55v12.47h-1.55zM942.90 264.27h1.55v13.30h-1.55zM950.85 269.25h1.55v5.00h-1.55zM953.50 258.47h1.55v13.30h-1.55zM956.15 254.32h1.55v7.49h-1.55zM961.45 253.49h1.55v14.95h-1.55zM977.35 253.49h1.55v14.95h-1.55zM980.00 248.52h1.55v11.64h-1.55zM982.65 236.91h1.55v11.64h-1.55zM995.90 242.71h1.55v5.83h-1.55zM1009.15 265.93h1.55v15.78h-1.55zM1014.45 261.78h1.55v14.95h-1.55zM1017.10 261.78h1.55v6.66h-1.55zM1019.75 265.10h1.55v5.83h-1.55zM1027.70 278.37h1.55v8.32h-1.55zM1033.00 280.20h1.55v10.81h-1.55zM1035.65 275.23h1.55v8.32h-1.55zM1040.95 278.37h1.55v4.18h-1.55zM1043.60 276.71h1.55v4.18h-1.55zM1046.25 265.28h1.55v11.64h-1.55zM1056.85 270.91h1.55v4.18h-1.55zM1059.50 274.40h1.55v6.66h-1.55zM1062.15 271.91h1.55v6.66h-1.55zM1070.10 276.06h1.55v8.32h-1.55zM1080.70 286.01h1.55v6.66h-1.55zM1088.65 284.35h1.55v11.64h-1.55zM1091.30 274.40h1.55v9.98h-1.55zM1096.60 261.96h1.55v12.47h-1.55zM1099.25 261.75h1.55v6.78h-1.55zM1101.90 256.98h1.55v9.15h-1.55zM1107.20 256.98h1.55v5.00h-1.55zM1112.50 274.89h1.55v8.14h-1.55zM1115.15 273.57h1.55v7.49h-1.55zM1120.45 305.00h1.55v4.00h-1.55zM1133.70 316.70h1.55v20.00h-1.55zM1136.35 292.00h1.55v20.00h-1.55zM1141.65 296.10h1.55v13.50h-1.55zM1144.30 305.80h1.55v13.50h-1.55zM1152.25 310.90h1.55v7.80h-1.55zM1154.90 308.40h1.55v3.20h-1.55z" stroke="#f52222" stroke-width="0.9" fill="#ffdcdc"/>
<path d="M106.28 154.89V163.17M114.22 160.97V164.90M122.17 154.51V159.46M124.83 157.82V162.87M127.47 156.26V167.57M130.12 158.82V173.10M143.38 152.14V158.51M148.68 153.13V158.17M153.97 154.45V163.81M156.62 163.76V171.94M159.28 166.45V175.00M161.93 174.22V184.67M169.88 179.68V192.49M183.12 182.35V189.04M185.78 182.92V189.23M191.07 191.16V197.08M193.72 194.95V200.50M199.03 199.52V206.07M212.28 191.65V196.75M217.57 194.49V199.56M220.22 193.73V202.42M222.88 196.87V204.71M233.48 184.70V192.23M236.12 191.31V196.62M238.77 192.37V197.30M241.43 189.71V200.63M244.07 191.28V198.35M254.68 177.56V187.28M259.98 182.35V188.34M270.57 182.73V187.67M275.88 174.70V183.17M283.82 173.57V178.36M286.48 172.57V179.57M297.07 173.79V179.22M312.98 168.57V176.68M320.93 165.60V185.50M336.82 159.03V164.31M339.48 161.11V165.51M352.72 148.05V154.79M355.38 152.06V156.99M358.02 152.29V160.16M365.97 152.56V161.06M368.62 153.47V162.42M371.27 158.88V171.71M379.22 159.91V165.17M395.12 149.80V158.84M408.38 133.86V140.95M421.62 129.86V137.23M429.57 129.60V134.69M434.88 129.11V138.02M437.52 134.77V139.90M442.82 134.01V140.64M448.12 132.98V140.42M453.42 136.79V143.26M461.38 136.46V141.99M466.67 125.70V136.20M479.92 127.88V135.55M482.57 129.46V135.80M487.88 132.27V137.35M493.17 130.07V137.15M506.42 122.90V137.72M514.38 128.47V135.16M517.02 130.74V141.44M535.58 115.60V124.14M538.23 122.02V128.67M543.52 128.10V134.02M554.12 120.57V141.96M559.42 136.80V147.28M567.38 140.37V148.91M572.67 143.17V149.00M580.62 151.49V156.53M588.58 144.54V156.44M593.88 147.67V155.73M596.52 151.62V161.00M599.17 153.01V157.97M604.48 150.39V154.22M609.77 148.10V153.62M612.43 147.23V155.88M617.73 147.57V156.09M649.52 117.50V127.80M670.73 88.85V98.03M676.02 92.68V104.68M678.68 86.60V110.00M683.98 105.50V123.00M691.93 117.50V136.00M694.58 121.50V149.50M697.23 148.50V166.00M699.88 176.00V203.00M718.43 140.55V154.55M721.08 149.25V163.39M734.33 148.83V158.33M744.93 142.63V150.85M747.58 145.67V156.91M752.88 151.37V160.34M760.83 146.68V156.92M763.48 150.52V162.61M766.12 172.39V194.55M774.08 180.02V185.08M779.38 176.78V183.05M782.02 171.37V183.47M784.68 178.56V193.62M787.33 181.17V189.36M797.93 170.04V178.89M800.58 170.89V180.34M803.23 177.55V191.48M805.88 185.89V201.58M808.52 195.49V207.20M813.83 193.55V202.14M824.43 188.95V199.48M827.08 192.56V204.70M829.73 194.47V198.56M835.02 194.02V200.97M842.98 178.16V184.25M848.27 175.42V181.33M856.23 175.98V182.25M858.88 177.12V183.67M869.48 170.03V180.34M872.12 175.08V188.91M874.77 182.28V188.07M877.43 182.36V195.30M880.08 184.81V193.50M882.73 197.34V211.28M888.02 194.44V202.37M898.62 186.20V194.06M901.27 192.34V203.95M903.93 199.56V207.89M909.23 198.02V207.56M914.52 203.89V216.08M917.18 218.58V246.27M922.48 235.93V246.26M927.77 237.30V251.85M933.08 249.01V263.50M935.73 253.82V264.85M941.02 249.45V269.91M946.33 262.73V274.99M948.98 267.20V276.26M959.58 261.26V270.60M964.88 254.68V262.97M967.52 251.79V260.31M970.18 255.78V264.97M972.83 257.79V266.88M975.48 260.44V269.17M986.08 233.65V240.27M988.73 235.47V244.26M991.38 239.05V246.51M994.02 239.31V249.58M999.33 238.67V256.59M1001.98 256.09V279.25M1004.62 265.64V277.76M1007.27 269.16V284.78M1012.58 265.48V273.81M1023.18 262.69V270.80M1025.83 264.57V279.24M1031.12 276.16V291.75M1039.08 275.16V284.06M1049.67 261.90V268.75M1052.33 265.08V272.93M1054.97 266.88V275.90M1065.58 272.98V284.04M1068.22 278.42V283.54M1073.52 279.77V291.94M1076.17 284.54V292.86M1078.83 288.08V295.96M1084.12 285.82V293.25M1086.77 286.12V294.91M1094.72 274.22V280.66M1105.33 259.14V265.91M1110.62 266.06V280.78M1118.58 291.50V315.50M1123.88 302.00V317.00M1126.53 304.50V320.00M1129.17 309.00V324.50M1131.83 316.00V332.50M1139.78 291.00V309.00M1147.72 299.30V311.00M1150.38 305.50V321.00" stroke="#0e6e33" stroke-width="1" fill="none"/>
<path d="M105.08 156.10h2.40v6.66h-2.40zM113.02 161.91h2.40v2.52h-2.40zM120.97 155.28h2.40v3.35h-2.40zM123.62 158.59h2.40v3.35h-2.40zM126.27 161.46h2.40v3.89h-2.40zM128.93 161.08h2.40v9.98h-2.40zM142.18 153.62h2.40v3.35h-2.40zM147.48 153.62h2.40v3.35h-2.40zM152.78 156.10h2.40v5.83h-2.40zM155.43 165.23h2.40v5.83h-2.40zM158.08 167.71h2.40v5.83h-2.40zM160.73 175.18h2.40v7.49h-2.40zM168.68 180.15h2.40v10.81h-2.40zM181.93 182.69h2.40v2.82h-2.40zM184.58 183.47h2.40v4.18h-2.40zM189.88 191.76h2.40v3.35h-2.40zM192.53 196.73h2.40v2.52h-2.40zM197.83 200.05h2.40v5.00h-2.40zM211.08 192.59h2.40v3.35h-2.40zM216.38 195.08h2.40v2.52h-2.40zM219.03 196.25h2.40v4.42h-2.40zM221.68 198.39h2.40v4.18h-2.40zM232.28 186.78h2.40v3.35h-2.40zM234.93 192.59h2.40v2.52h-2.40zM237.57 193.42h2.40v2.52h-2.40zM240.23 193.71h2.40v3.06h-2.40zM242.88 192.54h2.40v5.00h-2.40zM253.48 179.27h2.40v6.66h-2.40zM258.78 183.42h2.40v4.18h-2.40zM269.38 183.42h2.40v2.52h-2.40zM274.68 177.61h2.40v5.00h-2.40zM282.62 174.30h2.40v3.35h-2.40zM285.28 175.12h2.40v2.05h-2.40zM295.88 174.41h2.40v2.22h-2.40zM311.78 170.15h2.40v5.83h-2.40zM319.73 166.83h2.40v8.32h-2.40zM335.62 159.37h2.40v4.18h-2.40zM338.28 162.69h2.40v2.52h-2.40zM351.52 149.42h2.40v4.18h-2.40zM354.18 153.51h2.40v2.72h-2.40zM356.82 153.57h2.40v5.00h-2.40zM364.77 153.61h2.40v4.06h-2.40zM367.43 155.23h2.40v5.83h-2.40zM370.07 160.20h2.40v10.81h-2.40zM378.02 161.03h2.40v3.35h-2.40zM393.93 151.76h2.40v5.83h-2.40zM407.18 135.18h2.40v4.18h-2.40zM420.43 131.03h2.40v5.00h-2.40zM428.38 130.20h2.40v4.18h-2.40zM433.68 130.20h2.40v6.66h-2.40zM436.32 135.18h2.40v4.18h-2.40zM441.62 136.83h2.40v1.01h-2.40zM446.93 133.52h2.40v5.83h-2.40zM452.22 138.54h2.40v2.75h-2.40zM460.18 137.92h2.40v3.65h-2.40zM465.47 126.50h2.40v9.00h-2.40zM478.72 128.54h2.40v5.83h-2.40zM481.38 131.23h2.40v2.39h-2.40zM486.68 132.93h2.40v2.05h-2.40zM491.97 131.82h2.40v2.42h-2.40zM505.22 124.40h2.40v12.47h-2.40zM513.17 129.37h2.40v4.18h-2.40zM515.82 131.86h2.40v7.49h-2.40zM534.38 116.93h2.40v5.83h-2.40zM537.02 122.74h2.40v5.00h-2.40zM542.32 128.54h2.40v5.00h-2.40zM552.92 121.86h2.40v17.44h-2.40zM558.22 139.27h2.40v6.66h-2.40zM566.17 144.44h2.40v2.47h-2.40zM571.47 145.68h2.40v1.75h-2.40zM579.42 152.52h2.40v3.66h-2.40zM587.38 145.08h2.40v9.98h-2.40zM592.67 149.22h2.40v5.00h-2.40zM595.32 152.54h2.40v6.66h-2.40zM597.97 154.71h2.40v2.87h-2.40zM603.27 151.31h2.40v2.38h-2.40zM608.57 150.50h2.40v1.64h-2.40zM611.23 148.39h2.40v6.66h-2.40zM616.52 150.69h2.40v3.34h-2.40zM648.32 118.20h2.40v8.90h-2.40zM669.52 90.35h2.40v5.83h-2.40zM674.82 93.56h2.40v5.56h-2.40zM677.48 100.00h2.40v8.80h-2.40zM682.77 106.60h2.40v15.50h-2.40zM690.73 118.50h2.40v16.70h-2.40zM693.38 122.50h2.40v25.80h-2.40zM696.02 149.50h2.40v15.20h-2.40zM698.67 177.40h2.40v12.40h-2.40zM717.23 143.57h2.40v9.15h-2.40zM719.88 153.16h2.40v7.87h-2.40zM733.12 150.20h2.40v7.49h-2.40zM743.73 144.40h2.40v5.83h-2.40zM746.38 149.41h2.40v3.17h-2.40zM751.67 153.96h2.40v1.27h-2.40zM759.62 147.71h2.40v7.49h-2.40zM762.27 152.69h2.40v7.49h-2.40zM764.92 175.08h2.40v15.78h-2.40zM772.88 182.33h2.40v1.81h-2.40zM778.17 177.56h2.40v5.00h-2.40zM780.82 177.28h2.40v4.08h-2.40zM783.48 182.40h2.40v6.14h-2.40zM786.12 183.37h2.40v4.18h-2.40zM796.73 171.76h2.40v4.18h-2.40zM799.38 173.42h2.40v5.83h-2.40zM802.02 178.39h2.40v10.81h-2.40zM804.67 188.34h2.40v12.47h-2.40zM807.32 196.64h2.40v5.83h-2.40zM812.62 194.98h2.40v5.83h-2.40zM823.23 190.00h2.40v9.15h-2.40zM825.88 195.16h2.40v2.61h-2.40zM828.52 195.76h2.40v1.56h-2.40zM833.82 195.47h2.40v1.50h-2.40zM841.77 180.48h2.40v3.31h-2.40zM847.07 176.10h2.40v4.18h-2.40zM855.02 177.01h2.40v2.45h-2.40zM857.67 178.59h2.40v4.18h-2.40zM868.27 171.13h2.40v8.32h-2.40zM870.92 178.31h2.40v5.41h-2.40zM873.57 182.74h2.40v4.18h-2.40zM876.23 185.64h2.40v3.53h-2.40zM878.88 186.06h2.40v5.83h-2.40zM881.52 198.49h2.40v9.98h-2.40zM886.82 195.18h2.40v5.83h-2.40zM897.42 187.71h2.40v5.83h-2.40zM900.07 194.35h2.40v9.15h-2.40zM902.73 201.81h2.40v5.00h-2.40zM908.02 200.15h2.40v5.83h-2.40zM913.32 206.78h2.40v7.49h-2.40zM915.98 220.33h2.40v24.08h-2.40zM921.27 238.57h2.40v5.00h-2.40zM926.57 237.74h2.40v11.64h-2.40zM931.88 251.01h2.40v9.98h-2.40zM934.52 255.15h2.40v9.15h-2.40zM939.82 251.83h2.40v17.44h-2.40zM945.12 265.10h2.40v9.15h-2.40zM947.77 267.59h2.40v8.32h-2.40zM958.38 263.44h2.40v5.83h-2.40zM963.67 255.15h2.40v5.83h-2.40zM966.32 253.49h2.40v4.18h-2.40zM968.98 257.64h2.40v6.66h-2.40zM971.62 260.13h2.40v5.00h-2.40zM974.27 260.96h2.40v6.66h-2.40zM984.88 236.08h2.40v3.35h-2.40zM987.52 236.08h2.40v6.66h-2.40zM990.17 240.23h2.40v4.18h-2.40zM992.82 241.06h2.40v5.83h-2.40zM998.12 241.06h2.40v13.30h-2.40zM1000.77 256.81h2.40v19.93h-2.40zM1003.42 266.76h2.40v9.15h-2.40zM1006.07 270.91h2.40v11.64h-2.40zM1011.38 265.93h2.40v7.49h-2.40zM1021.98 264.27h2.40v4.18h-2.40zM1024.62 266.76h2.40v10.81h-2.40zM1029.92 277.71h2.40v11.64h-2.40zM1037.88 275.88h2.40v5.83h-2.40zM1048.47 263.62h2.40v4.18h-2.40zM1051.12 266.76h2.40v4.18h-2.40zM1053.77 267.76h2.40v7.49h-2.40zM1064.38 273.57h2.40v8.32h-2.40zM1067.02 279.57h2.40v3.67h-2.40zM1072.32 281.86h2.40v8.32h-2.40zM1074.97 288.01h2.40v3.60h-2.40zM1077.62 289.32h2.40v5.00h-2.40zM1082.92 286.48h2.40v2.99h-2.40zM1085.57 287.66h2.40v5.83h-2.40zM1093.52 275.23h2.40v5.00h-2.40zM1104.12 259.47h2.40v5.00h-2.40zM1109.42 267.76h2.40v12.47h-2.40zM1117.38 292.90h2.40v21.20h-2.40zM1122.67 303.20h2.40v12.80h-2.40zM1125.33 305.80h2.40v12.90h-2.40zM1127.97 310.30h2.40v12.90h-2.40zM1130.62 317.40h2.40v14.10h-2.40zM1138.58 292.20h2.40v15.50h-2.40zM1146.52 300.60h2.40v9.00h-2.40zM1149.17 307.00h2.40v13.00h-2.40z" fill="#0e6e33"/>
<path d="M97.38 526.40V477.40h1.90V526.40zM100.03 526.40V476.30h1.90V526.40zM102.67 526.40V476.00h1.90V526.40zM107.97 526.40V468.56h1.90V526.40zM110.62 526.40V470.77h1.90V526.40zM115.92 526.40V461.93h1.90V526.40zM118.58 526.40V457.51h1.90V526.40zM131.83 526.40V460.83h1.90V526.40zM134.48 526.40V448.67h1.90V526.40zM137.12 526.40V445.36h1.90V526.40zM139.78 526.40V447.57h1.90V526.40zM145.08 526.40V434.31h1.90V526.40zM150.38 526.40V455.30h1.90V526.40zM163.62 526.40V462.60h1.90V526.40zM166.28 526.40V463.37h1.90V526.40zM171.58 526.40V475.19h1.90V526.40zM174.23 526.40V469.67h1.90V526.40zM176.88 526.40V457.51h1.90V526.40zM179.53 526.40V471.50h1.90V526.40zM187.48 526.40V466.35h1.90V526.40zM195.43 526.40V480.72h1.90V526.40zM200.73 526.40V461.93h1.90V526.40zM203.38 526.40V472.98h1.90V526.40zM206.03 526.40V480.72h1.90V526.40zM208.68 526.40V467.46h1.90V526.40zM213.98 526.40V476.30h1.90V526.40zM216.62 526.40V483.00h1.90V526.40zM224.57 526.40V479.61h1.90V526.40zM227.23 526.40V464.14h1.90V526.40zM229.88 526.40V474.09h1.90V526.40zM237.82 526.40V478.51h1.90V526.40zM243.12 526.40V487.35h1.90V526.40zM245.78 526.40V468.56h1.90V526.40zM248.43 526.40V475.19h1.90V526.40zM251.07 526.40V472.98h1.90V526.40zM256.38 526.40V482.93h1.90V526.40zM261.68 526.40V477.40h1.90V526.40zM266.98 526.40V480.72h1.90V526.40zM272.28 526.40V480.72h1.90V526.40zM277.57 526.40V464.92h1.90V526.40zM280.23 526.40V468.56h1.90V526.40zM282.88 526.40V476.30h1.90V526.40zM288.18 526.40V482.93h1.90V526.40zM290.82 526.40V484.03h1.90V526.40zM293.48 526.40V479.61h1.90V526.40zM298.78 526.40V476.30h1.90V526.40zM301.43 526.40V469.67h1.90V526.40zM304.07 526.40V466.35h1.90V526.40zM306.73 526.40V465.25h1.90V526.40zM309.38 526.40V463.04h1.90V526.40zM314.68 526.40V461.93h1.90V526.40zM317.32 526.40V472.98h1.90V526.40zM322.62 526.40V463.04h1.90V526.40zM325.28 526.40V435.41h1.90V526.40zM327.93 526.40V448.67h1.90V526.40zM330.57 526.40V457.51h1.90V526.40zM333.23 526.40V448.67h1.90V526.40zM338.53 526.40V455.30h1.90V526.40zM341.18 526.40V449.78h1.90V526.40zM343.82 526.40V466.35h1.90V526.40zM346.48 526.40V445.36h1.90V526.40zM349.12 526.40V447.57h1.90V526.40zM359.72 526.40V448.67h1.90V526.40zM362.38 526.40V442.71h1.90V526.40zM372.97 526.40V463.04h1.90V526.40zM375.62 526.40V465.25h1.90V526.40zM380.93 526.40V458.62h1.90V526.40zM383.57 526.40V463.04h1.90V526.40zM386.22 526.40V464.14h1.90V526.40zM388.88 526.40V464.14h1.90V526.40zM391.52 526.40V466.35h1.90V526.40zM396.82 526.40V457.51h1.90V526.40zM399.47 526.40V439.83h1.90V526.40zM402.12 526.40V453.09h1.90V526.40zM404.77 526.40V454.20h1.90V526.40zM410.07 526.40V432.10h1.90V526.40zM412.72 526.40V435.41h1.90V526.40zM415.38 526.40V453.09h1.90V526.40zM418.02 526.40V449.78h1.90V526.40zM423.32 526.40V460.39h1.90V526.40zM425.97 526.40V453.09h1.90V526.40zM431.27 526.40V461.93h1.90V526.40zM439.22 526.40V463.04h1.90V526.40zM444.52 526.40V461.93h1.90V526.40zM449.82 526.40V466.35h1.90V526.40zM455.12 526.40V481.82h1.90V526.40zM457.77 526.40V478.51h1.90V526.40zM463.07 526.40V477.40h1.90V526.40zM468.38 526.40V463.59h1.90V526.40zM471.02 526.40V465.25h1.90V526.40zM473.68 526.40V472.98h1.90V526.40zM476.32 526.40V479.61h1.90V526.40zM484.27 526.40V474.09h1.90V526.40zM489.57 526.40V484.03h1.90V526.40zM494.88 526.40V480.28h1.90V526.40zM497.52 526.40V485.14h1.90V526.40zM500.18 526.40V466.35h1.90V526.40zM502.82 526.40V468.56h1.90V526.40zM508.12 526.40V475.19h1.90V526.40zM510.77 526.40V465.25h1.90V526.40zM518.72 526.40V475.19h1.90V526.40zM521.38 526.40V463.04h1.90V526.40zM524.02 526.40V464.14h1.90V526.40zM526.67 526.40V474.09h1.90V526.40zM529.32 526.40V463.04h1.90V526.40zM531.97 526.40V458.62h1.90V526.40zM539.92 526.40V474.09h1.90V526.40zM545.22 526.40V467.90h1.90V526.40zM547.88 526.40V461.27h1.90V526.40zM550.52 526.40V454.20h1.90V526.40zM555.82 526.40V472.98h1.90V526.40zM561.12 526.40V480.72h1.90V526.40zM563.77 526.40V465.69h1.90V526.40zM569.07 526.40V479.61h1.90V526.40zM574.38 526.40V457.51h1.90V526.40zM577.02 526.40V475.19h1.90V526.40zM582.32 526.40V482.49h1.90V526.40zM590.27 526.40V488.45h1.90V526.40zM600.88 526.40V488.45h1.90V526.40zM606.17 526.40V478.95h1.90V526.40zM614.12 526.40V478.95h1.90V526.40zM619.42 526.40V469.67h1.90V526.40zM622.07 526.40V478.51h1.90V526.40zM624.73 526.40V457.51h1.90V526.40zM627.38 526.40V454.20h1.90V526.40zM630.02 526.40V457.51h1.90V526.40zM632.67 526.40V454.20h1.90V526.40zM635.32 526.40V446.46h1.90V526.40zM637.98 526.40V461.93h1.90V526.40zM640.62 526.40V457.51h1.90V526.40zM643.27 526.40V467.90h1.90V526.40zM645.92 526.40V467.46h1.90V526.40zM651.23 526.40V455.30h1.90V526.40zM653.88 526.40V438.73h1.90V526.40zM656.52 526.40V453.09h1.90V526.40zM659.17 526.40V445.36h1.90V526.40zM661.82 526.40V454.20h1.90V526.40zM664.48 526.40V446.46h1.90V526.40zM667.12 526.40V443.15h1.90V526.40zM672.42 526.40V452.43h1.90V526.40zM680.38 526.40V457.51h1.90V526.40zM685.67 526.40V457.51h1.90V526.40zM688.32 526.40V453.76h1.90V526.40zM701.57 526.40V475.19h1.90V526.40zM704.23 526.40V476.30h1.90V526.40zM706.88 526.40V493.54h1.90V526.40zM709.52 526.40V480.28h1.90V526.40zM712.17 526.40V477.40h1.90V526.40zM714.82 526.40V463.04h1.90V526.40zM722.77 526.40V472.98h1.90V526.40zM725.42 526.40V476.30h1.90V526.40zM728.07 526.40V477.40h1.90V526.40zM730.73 526.40V460.39h1.90V526.40zM736.02 526.40V476.30h1.90V526.40zM738.67 526.40V470.11h1.90V526.40zM741.32 526.40V461.27h1.90V526.40zM749.27 526.40V476.30h1.90V526.40zM754.57 526.40V480.28h1.90V526.40zM757.23 526.40V479.61h1.90V526.40zM767.82 526.40V464.81h1.90V526.40zM770.48 526.40V463.04h1.90V526.40zM775.77 526.40V469.23h1.90V526.40zM778.42 526.40V475.19h1.90V526.40zM783.73 526.40V475.19h1.90V526.40zM789.02 526.40V480.28h1.90V526.40zM791.67 526.40V469.67h1.90V526.40zM794.32 526.40V467.90h1.90V526.40zM810.23 526.40V472.98h1.90V526.40zM815.52 526.40V482.93h1.90V526.40zM818.17 526.40V472.98h1.90V526.40zM820.82 526.40V484.03h1.90V526.40zM831.42 526.40V479.61h1.90V526.40zM836.73 526.40V480.28h1.90V526.40zM839.38 526.40V477.40h1.90V526.40zM844.67 526.40V482.49h1.90V526.40zM849.98 526.40V483.37h1.90V526.40zM852.62 526.40V484.03h1.90V526.40zM860.57 526.40V479.61h1.90V526.40zM863.23 526.40V471.88h1.90V526.40zM865.88 526.40V478.51h1.90V526.40zM889.73 526.40V487.79h1.90V526.40zM892.38 526.40V486.24h1.90V526.40zM895.02 526.40V485.58h1.90V526.40zM905.62 526.40V487.79h1.90V526.40zM910.92 526.40V486.91h1.90V526.40zM918.88 526.40V478.51h1.90V526.40zM924.17 526.40V484.03h1.90V526.40zM937.42 526.40V484.70h1.90V526.40zM942.73 526.40V478.51h1.90V526.40zM950.67 526.40V480.72h1.90V526.40zM953.32 526.40V486.24h1.90V526.40zM955.98 526.40V486.91h1.90V526.40zM961.27 526.40V477.40h1.90V526.40zM963.92 526.40V486.91h1.90V526.40zM977.17 526.40V477.40h1.90V526.40zM979.82 526.40V467.90h1.90V526.40zM982.48 526.40V449.78h1.90V526.40zM995.73 526.40V486.91h1.90V526.40zM1008.98 526.40V475.86h1.90V526.40zM1014.27 526.40V475.19h1.90V526.40zM1016.92 526.40V475.19h1.90V526.40zM1019.57 526.40V483.37h1.90V526.40zM1022.23 526.40V488.45h1.90V526.40zM1027.52 526.40V486.24h1.90V526.40zM1032.82 526.40V489.56h1.90V526.40zM1035.47 526.40V488.45h1.90V526.40zM1040.77 526.40V492.87h1.90V526.40zM1043.42 526.40V492.87h1.90V526.40zM1046.07 526.40V482.49h1.90V526.40zM1059.32 526.40V493.54h1.90V526.40zM1061.97 526.40V489.56h1.90V526.40zM1069.92 526.40V490.66h1.90V526.40zM1080.52 526.40V490.66h1.90V526.40zM1088.47 526.40V486.91h1.90V526.40zM1091.12 526.40V481.16h1.90V526.40zM1096.42 526.40V474.09h1.90V526.40zM1099.07 526.40V488.45h1.90V526.40zM1101.72 526.40V479.61h1.90V526.40zM1107.02 526.40V481.16h1.90V526.40zM1112.32 526.40V486.91h1.90V526.40zM1114.97 526.40V488.45h1.90V526.40zM1120.27 526.40V470.77h1.90V526.40zM1133.52 526.40V477.40h1.90V526.40zM1136.17 526.40V455.97h1.90V526.40zM1141.47 526.40V472.98h1.90V526.40zM1144.12 526.40V472.98h1.90V526.40zM1152.08 526.40V470.11h1.90V526.40zM1154.72 526.40V508.34h1.90V526.40z" stroke="#ee6661" stroke-width="0.7" fill="#fff6f5"/>
<path d="M105.03 526.70V459.72h2.50V526.70zM112.97 526.70V463.04h2.50V526.70zM120.92 526.70V459.06h2.50V526.70zM123.58 526.70V471.88h2.50V526.70zM126.22 526.70V454.20h2.50V526.70zM128.88 526.70V443.15h2.50V526.70zM142.12 526.70V448.67h2.50V526.70zM147.43 526.70V436.52h2.50V526.70zM152.72 526.70V454.20h2.50V526.70zM155.38 526.70V455.30h2.50V526.70zM158.03 526.70V463.04h2.50V526.70zM160.68 526.70V454.20h2.50V526.70zM168.62 526.70V464.14h2.50V526.70zM181.88 526.70V475.19h2.50V526.70zM184.53 526.70V470.77h2.50V526.70zM189.82 526.70V467.46h2.50V526.70zM192.47 526.70V465.25h2.50V526.70zM197.78 526.70V471.88h2.50V526.70zM211.03 526.70V469.67h2.50V526.70zM218.97 526.70V475.19h2.50V526.70zM221.62 526.70V466.35h2.50V526.70zM232.23 526.70V474.09h2.50V526.70zM234.88 526.70V471.44h2.50V526.70zM240.18 526.70V481.82h2.50V526.70zM253.43 526.70V477.40h2.50V526.70zM258.73 526.70V479.61h2.50V526.70zM264.02 526.70V482.93h2.50V526.70zM269.32 526.70V478.51h2.50V526.70zM274.62 526.70V461.27h2.50V526.70zM285.23 526.70V477.40h2.50V526.70zM295.82 526.70V478.51h2.50V526.70zM311.73 526.70V464.14h2.50V526.70zM319.68 526.70V437.62h2.50V526.70zM335.57 526.70V458.18h2.50V526.70zM351.47 526.70V438.73h2.50V526.70zM354.12 526.70V447.57h2.50V526.70zM356.77 526.70V434.31h2.50V526.70zM364.72 526.70V447.13h2.50V526.70zM367.38 526.70V445.80h2.50V526.70zM370.02 526.70V438.73h2.50V526.70zM377.97 526.70V466.35h2.50V526.70zM393.88 526.70V471.44h2.50V526.70zM407.12 526.70V448.01h2.50V526.70zM420.38 526.70V451.99h2.50V526.70zM428.32 526.70V435.41h2.50V526.70zM433.62 526.70V451.99h2.50V526.70zM436.27 526.70V453.09h2.50V526.70zM441.57 526.70V463.04h2.50V526.70zM446.88 526.70V460.83h2.50V526.70zM452.17 526.70V468.56h2.50V526.70zM460.12 526.70V476.30h2.50V526.70zM465.42 526.70V461.93h2.50V526.70zM478.67 526.70V467.90h2.50V526.70zM481.32 526.70V484.70h2.50V526.70zM486.62 526.70V474.09h2.50V526.70zM491.92 526.70V482.49h2.50V526.70zM505.17 526.70V456.85h2.50V526.70zM513.12 526.70V470.11h2.50V526.70zM515.77 526.70V469.23h2.50V526.70zM534.33 526.70V460.83h2.50V526.70zM536.98 526.70V470.11h2.50V526.70zM542.27 526.70V442.71h2.50V526.70zM552.88 526.70V455.30h2.50V526.70zM558.17 526.70V470.11h2.50V526.70zM566.12 526.70V474.09h2.50V526.70zM571.42 526.70V476.30h2.50V526.70zM579.38 526.70V482.49h2.50V526.70zM584.67 526.70V483.59h2.50V526.70zM587.33 526.70V484.70h2.50V526.70zM592.62 526.70V486.24h2.50V526.70zM595.27 526.70V482.49h2.50V526.70zM597.92 526.70V486.24h2.50V526.70zM603.23 526.70V480.28h2.50V526.70zM608.52 526.70V484.70h2.50V526.70zM611.18 526.70V477.40h2.50V526.70zM616.48 526.70V472.32h2.50V526.70zM648.27 526.70V449.78h2.50V526.70zM669.48 526.70V444.92h2.50V526.70zM674.77 526.70V447.57h2.50V526.70zM677.43 526.70V463.04h2.50V526.70zM682.73 526.70V439.83h2.50V526.70zM690.68 526.70V433.20h2.50V526.70zM693.33 526.70V439.83h2.50V526.70zM695.98 526.70V458.62h2.50V526.70zM698.62 526.70V439.83h2.50V526.70zM717.18 526.70V467.90h2.50V526.70zM719.83 526.70V476.30h2.50V526.70zM733.08 526.70V470.11h2.50V526.70zM743.68 526.70V466.35h2.50V526.70zM746.33 526.70V473.65h2.50V526.70zM751.62 526.70V478.51h2.50V526.70zM759.58 526.70V470.11h2.50V526.70zM762.23 526.70V475.86h2.50V526.70zM764.88 526.70V433.87h2.50V526.70zM772.83 526.70V471.44h2.50V526.70zM780.77 526.70V466.35h2.50V526.70zM786.08 526.70V477.40h2.50V526.70zM796.68 526.70V475.86h2.50V526.70zM799.33 526.70V482.49h2.50V526.70zM801.98 526.70V474.53h2.50V526.70zM804.62 526.70V476.30h2.50V526.70zM807.27 526.70V472.32h2.50V526.70zM812.58 526.70V473.65h2.50V526.70zM823.18 526.70V481.16h2.50V526.70zM825.83 526.70V481.16h2.50V526.70zM828.48 526.70V480.72h2.50V526.70zM833.77 526.70V486.91h2.50V526.70zM841.73 526.70V485.58h2.50V526.70zM847.02 526.70V482.49h2.50V526.70zM854.98 526.70V481.82h2.50V526.70zM857.62 526.70V487.79h2.50V526.70zM868.23 526.70V473.65h2.50V526.70zM870.88 526.70V484.70h2.50V526.70zM873.52 526.70V482.93h2.50V526.70zM876.18 526.70V482.93h2.50V526.70zM878.83 526.70V480.72h2.50V526.70zM881.48 526.70V474.53h2.50V526.70zM884.12 526.70V479.61h2.50V526.70zM886.77 526.70V482.93h2.50V526.70zM897.38 526.70V482.93h2.50V526.70zM900.02 526.70V480.72h2.50V526.70zM902.68 526.70V489.12h2.50V526.70zM907.98 526.70V485.58h2.50V526.70zM913.27 526.70V477.40h2.50V526.70zM915.93 526.70V449.78h2.50V526.70zM921.23 526.70V474.53h2.50V526.70zM926.52 526.70V485.58h2.50V526.70zM929.18 526.70V484.70h2.50V526.70zM931.83 526.70V482.93h2.50V526.70zM934.48 526.70V486.91h2.50V526.70zM939.77 526.70V480.72h2.50V526.70zM945.08 526.70V484.03h2.50V526.70zM947.73 526.70V482.93h2.50V526.70zM958.33 526.70V482.93h2.50V526.70zM966.27 526.70V490.00h2.50V526.70zM968.93 526.70V490.00h2.50V526.70zM971.58 526.70V485.14h2.50V526.70zM974.23 526.70V487.79h2.50V526.70zM984.83 526.70V469.67h2.50V526.70zM987.48 526.70V469.67h2.50V526.70zM990.12 526.70V476.30h2.50V526.70zM992.77 526.70V474.53h2.50V526.70zM998.08 526.70V475.86h2.50V526.70zM1000.73 526.70V467.90h2.50V526.70zM1003.38 526.70V482.93h2.50V526.70zM1006.02 526.70V482.93h2.50V526.70zM1011.33 526.70V476.74h2.50V526.70zM1024.58 526.70V486.91h2.50V526.70zM1029.88 526.70V487.79h2.50V526.70zM1037.83 526.70V495.08h2.50V526.70zM1048.42 526.70V486.91h2.50V526.70zM1051.08 526.70V492.87h2.50V526.70zM1053.72 526.70V490.66h2.50V526.70zM1056.38 526.70V489.56h2.50V526.70zM1064.33 526.70V490.66h2.50V526.70zM1066.97 526.70V492.21h2.50V526.70zM1072.27 526.70V491.77h2.50V526.70zM1074.92 526.70V492.87h2.50V526.70zM1077.58 526.70V496.19h2.50V526.70zM1082.88 526.70V493.54h2.50V526.70zM1085.52 526.70V496.19h2.50V526.70zM1093.47 526.70V489.12h2.50V526.70zM1104.08 526.70V484.03h2.50V526.70zM1109.38 526.70V476.30h2.50V526.70zM1117.33 526.70V460.83h2.50V526.70zM1122.62 526.70V486.91h2.50V526.70zM1125.28 526.70V485.58h2.50V526.70zM1127.92 526.70V482.49h2.50V526.70zM1130.58 526.70V484.03h2.50V526.70zM1138.53 526.70V466.35h2.50V526.70zM1146.47 526.70V472.98h2.50V526.70zM1149.12 526.70V480.72h2.50V526.70z" fill="#0e6e33"/>
<path d="M98.3 463.0 L101.0 462.7 L103.6 462.0 L106.3 460.9 L108.9 460.2 L111.6 459.5 L114.2 458.6 L116.9 458.2 L119.5 457.3 L122.2 455.8 L124.8 453.7 L127.5 452.6 L130.1 450.4 L132.8 448.2 L135.4 446.1 L138.1 443.3 L140.7 441.2 L143.4 439.8 L146.0 437.4 L148.7 436.3 L151.3 436.3 L154.0 436.2 L156.6 436.7 L159.3 438.0 L161.9 439.7 L164.6 441.9 L167.2 443.9 L169.9 446.8 L172.5 449.8 L175.2 451.6 L177.8 453.5 L180.5 454.9 L183.1 455.9 L185.8 457.1 L188.4 457.5 L191.1 458.8 L193.7 459.4 L196.4 459.2 L199.0 460.4 L201.7 460.5 L204.3 461.1 L207.0 461.5 L209.6 461.5 L212.3 462.2 L214.9 462.5 L217.6 463.0 L220.2 463.0 L222.9 463.7 L225.5 463.6 L228.2 463.2 L230.8 462.9 L233.5 462.3 L236.1 462.9 L238.8 463.2 L241.4 463.9 L244.1 464.2 L246.7 464.6 L249.4 464.8 L252.0 465.7 L254.7 466.2 L257.3 466.3 L260.0 467.3 L262.6 467.4 L265.3 467.4 L267.9 468.1 L270.6 467.2 L273.2 467.0 L275.9 467.0 L278.5 466.6 L281.2 466.4 L283.8 466.5 L286.5 466.3 L289.1 466.2 L291.8 466.3 L294.4 466.4 L297.1 467.1 L299.7 466.6 L302.4 465.5 L305.0 464.8 L307.7 463.5 L310.3 462.1 L313.0 460.8 L315.6 459.8 L318.3 456.4 L320.9 454.2 L323.6 451.3 L326.2 449.6 L328.9 447.3 L331.5 445.3 L334.2 443.9 L336.8 443.3 L339.5 442.9 L342.1 441.9 L344.8 442.0 L347.4 441.0 L350.1 440.8 L352.7 439.9 L355.4 438.9 L358.0 438.4 L360.7 437.3 L363.3 435.8 L366.0 434.6 L368.6 433.9 L371.3 434.7 L373.9 435.4 L376.6 437.2 L379.2 439.7 L381.9 441.9 L384.5 444.1 L387.2 445.9 L389.8 448.2 L392.5 450.0 L395.1 451.5 L397.8 452.6 L400.4 451.7 L403.1 449.7 L405.7 448.3 L408.4 446.1 L411.0 443.8 L413.7 441.3 L416.3 439.8 L419.0 438.1 L421.6 436.6 L424.3 436.9 L426.9 436.7 L429.6 436.4 L432.2 437.5 L434.9 438.0 L437.5 439.3 L440.2 441.6 L442.8 443.3 L445.5 445.4 L448.1 446.7 L450.8 447.9 L453.4 449.7 L456.1 452.3 L458.7 454.8 L461.4 457.6 L464.0 458.5 L466.7 460.2 L469.3 461.7 L472.0 461.6 L474.6 461.4 L477.3 461.4 L479.9 461.4 L482.6 461.5 L485.2 462.7 L487.9 463.2 L490.5 464.1 L493.2 465.7 L495.8 466.9 L498.5 466.6 L501.1 466.3 L503.8 466.0 L506.4 464.6 L509.1 463.7 L511.7 462.2 L514.4 460.5 L517.0 460.3 L519.7 459.3 L522.3 458.7 L525.0 458.1 L527.6 457.7 L530.3 457.0 L532.9 456.8 L535.6 456.1 L538.2 455.2 L540.9 454.1 L543.5 453.7 L546.2 452.8 L548.8 451.9 L551.5 451.6 L554.1 451.7 L556.8 451.7 L559.4 452.1 L562.1 453.4 L564.7 454.5 L567.4 455.4 L570.0 457.0 L572.7 458.8 L575.3 460.2 L578.0 461.7 L580.6 463.3 L583.3 464.3 L585.9 465.5 L588.6 467.4 L591.2 468.6 L593.9 469.6 L596.5 470.9 L599.2 472.4 L601.8 473.8 L604.5 473.4 L607.1 472.6 L609.8 472.1 L612.4 471.7 L615.1 470.2 L617.7 469.5 L620.4 468.2 L623.0 465.6 L625.7 462.9 L628.3 460.4 L631.0 457.8 L633.6 455.4 L636.3 453.1 L638.9 451.5 L641.6 451.1 L644.2 450.1 L646.9 449.4 L649.5 448.7 L652.2 447.7 L654.8 446.9 L657.5 444.7 L660.1 443.0 L662.8 442.1 L665.4 441.0 L668.1 440.6 L670.7 438.7 L673.4 437.3 L676.0 437.9 L678.7 438.0 L681.3 438.7 L684.0 438.6 L686.6 438.4 L689.3 438.4 L691.9 438.9 L694.6 438.4 L697.2 438.6 L699.9 438.4 L702.5 441.6 L705.2 443.9 L707.8 447.0 L710.5 450.6 L713.1 454.6 L715.8 457.5 L718.4 460.4 L721.1 462.0 L723.7 463.1 L726.4 464.0 L729.0 464.1 L731.7 463.0 L734.3 462.3 L737.0 461.7 L739.6 461.2 L742.3 460.6 L744.9 460.1 L747.6 460.0 L750.2 460.5 L752.9 460.6 L755.5 462.0 L758.2 462.2 L760.8 462.7 L763.5 462.6 L766.1 462.4 L768.8 461.3 L771.4 460.2 L774.1 459.1 L776.7 458.1 L779.4 456.9 L782.0 456.7 L784.7 456.9 L787.3 456.7 L790.0 458.1 L792.6 459.3 L795.3 460.7 L797.9 461.8 L800.6 462.1 L803.2 463.5 L805.9 463.8 L808.5 464.0 L811.2 464.0 L813.8 464.4 L816.5 464.5 L819.1 465.2 L821.8 465.8 L824.4 466.9 L827.1 467.3 L829.7 467.6 L832.4 468.1 L835.0 469.0 L837.7 469.5 L840.3 470.1 L843.0 470.4 L845.6 471.0 L848.3 471.2 L850.9 471.8 L853.6 471.7 L856.2 472.5 L858.9 473.2 L861.5 472.3 L864.2 470.9 L866.8 470.2 L869.5 470.3 L872.1 470.0 L874.8 470.1 L877.4 469.9 L880.1 469.2 L882.7 469.2 L885.4 468.8 L888.0 469.1 L890.7 469.8 L893.3 470.2 L896.0 471.1 L898.6 472.2 L901.3 472.2 L903.9 473.2 L906.6 473.4 L909.2 473.9 L911.9 474.9 L914.5 474.7 L917.2 472.9 L919.8 471.3 L922.5 470.1 L925.1 469.5 L927.8 468.7 L930.4 468.5 L933.1 468.9 L935.7 468.3 L938.4 468.6 L941.0 468.7 L943.7 470.3 L946.3 471.5 L949.0 472.3 L951.6 472.5 L954.3 472.5 L956.9 472.7 L959.6 472.6 L962.2 473.2 L964.9 472.7 L967.5 473.3 L970.2 474.7 L972.8 474.7 L975.5 475.1 L978.1 473.8 L980.8 473.4 L983.4 472.1 L986.1 470.6 L988.7 468.5 L991.4 466.5 L994.0 465.4 L996.7 464.2 L999.3 462.6 L1002.0 461.6 L1004.6 462.6 L1007.3 464.1 L1009.9 466.4 L1012.6 467.4 L1015.2 468.3 L1017.9 468.6 L1020.5 469.7 L1023.2 470.5 L1025.8 471.6 L1028.5 472.2 L1031.1 473.6 L1033.8 474.8 L1036.4 475.7 L1039.1 477.4 L1041.7 478.9 L1044.4 479.6 L1047.0 479.7 L1049.7 479.7 L1052.3 479.4 L1055.0 479.7 L1057.6 480.4 L1060.3 480.1 L1062.9 480.3 L1065.6 480.2 L1068.2 480.4 L1070.9 480.6 L1073.5 481.5 L1076.2 481.7 L1078.8 482.1 L1081.5 482.2 L1084.1 481.9 L1086.8 482.2 L1089.4 481.0 L1092.1 479.6 L1094.7 478.7 L1097.4 477.4 L1100.0 476.5 L1102.7 475.1 L1105.3 474.3 L1108.0 473.2 L1110.6 472.9 L1113.3 472.1 L1115.9 470.7 L1118.6 470.4 L1121.2 468.9 L1123.9 468.2 L1126.5 468.5 L1129.2 467.9 L1131.8 467.9 L1134.5 467.1 L1137.1 465.7 L1139.8 465.3 L1142.4 464.4 L1145.1 464.1 L1147.7 463.6 L1150.4 463.9 L1153.0 464.7 L1155.7 465.0" fill="none" stroke="#828282" stroke-width="1.4" stroke-linejoin="round"/>
<path d="M98.3 463.4 L101.0 462.9 L103.6 461.4 L106.3 459.9 L108.9 458.4 L111.6 456.2 L114.2 455.0 L116.9 455.6 L119.5 453.3 L122.2 451.9 L124.8 452.1 L127.5 449.1 L130.1 447.7 L132.8 444.5 L135.4 442.2 L138.1 438.6 L140.7 437.0 L143.4 435.3 L146.0 433.0 L148.7 432.2 L151.3 434.3 L154.0 435.5 L156.6 439.6 L159.3 442.3 L161.9 444.9 L164.6 447.2 L167.2 451.5 L169.9 453.0 L172.5 455.5 L175.2 456.7 L177.8 457.1 L180.5 458.2 L183.1 457.9 L185.8 459.3 L188.4 458.7 L191.1 459.9 L193.7 460.0 L196.4 458.7 L199.0 459.3 L201.7 460.5 L204.3 462.8 L207.0 461.5 L209.6 461.6 L212.3 461.4 L214.9 462.5 L217.6 462.9 L220.2 463.4 L222.9 464.2 L225.5 463.3 L228.2 463.1 L230.8 462.1 L233.5 462.3 L236.1 462.7 L238.8 464.3 L241.4 465.5 L244.1 466.7 L246.7 468.4 L249.4 468.2 L252.0 467.6 L254.7 466.3 L257.3 465.8 L260.0 465.9 L262.6 468.7 L265.3 469.4 L267.9 468.8 L270.6 468.4 L273.2 468.5 L275.9 466.9 L278.5 463.3 L281.2 463.4 L283.8 462.1 L286.5 462.3 L289.1 465.4 L291.8 468.7 L294.4 469.8 L297.1 469.0 L299.7 469.1 L302.4 466.2 L305.0 464.2 L307.7 460.2 L310.3 457.9 L313.0 455.8 L315.6 452.9 L318.3 452.3 L320.9 449.3 L323.6 444.9 L326.2 442.4 L328.9 438.6 L331.5 437.9 L334.2 438.1 L336.8 439.4 L339.5 439.8 L342.1 441.6 L344.8 444.5 L347.4 442.8 L350.1 441.4 L352.7 438.2 L355.4 434.0 L358.0 432.7 L360.7 432.1 L363.3 432.9 L366.0 433.4 L368.6 433.7 L371.3 435.0 L373.9 439.2 L376.6 441.8 L379.2 444.9 L381.9 448.8 L384.5 450.7 L387.2 452.1 L389.8 454.4 L392.5 454.2 L395.1 454.9 L397.8 453.7 L400.4 451.8 L403.1 448.8 L405.7 443.7 L408.4 438.5 L411.0 433.3 L413.7 431.5 L416.3 433.0 L419.0 433.7 L421.6 436.6 L424.3 439.9 L426.9 442.0 L429.6 443.0 L432.2 441.0 L434.9 440.1 L437.5 442.7 L440.2 445.4 L442.8 447.3 L445.5 449.1 L448.1 450.1 L450.8 451.5 L453.4 454.1 L456.1 457.3 L458.7 460.3 L461.4 463.3 L464.0 464.7 L466.7 464.5 L469.3 461.3 L472.0 457.8 L474.6 457.8 L477.3 460.3 L479.9 461.5 L482.6 461.9 L485.2 463.6 L487.9 463.7 L490.5 464.9 L493.2 466.9 L495.8 469.0 L498.5 468.4 L501.1 467.6 L503.8 465.0 L506.4 462.6 L509.1 458.5 L511.7 457.3 L514.4 456.4 L517.0 457.3 L519.7 458.5 L522.3 459.3 L525.0 457.9 L527.6 456.9 L530.3 455.1 L532.9 454.3 L535.6 453.1 L538.2 453.8 L540.9 452.9 L543.5 450.8 L546.2 450.7 L548.8 451.1 L551.5 447.9 L554.1 446.8 L556.8 449.8 L559.4 451.8 L562.1 454.3 L564.7 458.2 L567.4 460.3 L570.0 462.5 L572.7 463.9 L575.3 460.6 L578.0 461.0 L580.6 464.0 L583.3 464.0 L585.9 466.0 L588.6 471.4 L591.2 474.0 L593.9 474.9 L596.5 474.5 L599.2 476.2 L601.8 476.5 L604.5 473.7 L607.1 473.5 L609.8 473.1 L612.4 472.2 L615.1 469.9 L617.7 467.3 L620.4 465.3 L623.0 462.9 L625.7 459.0 L628.3 456.2 L631.0 452.3 L633.6 449.7 L636.3 444.2 L638.9 445.5 L641.6 445.6 L644.2 448.1 L646.9 450.6 L649.5 449.9 L652.2 448.1 L654.8 445.0 L657.5 442.6 L660.1 436.9 L662.8 436.7 L665.4 436.9 L668.1 436.4 L670.7 435.9 L673.4 437.2 L676.0 437.2 L678.7 438.8 L681.3 440.5 L684.0 442.6 L686.6 442.6 L689.3 440.8 L691.9 436.8 L694.6 433.0 L697.2 437.2 L699.9 435.1 L702.5 439.1 L705.2 449.2 L707.8 457.7 L710.5 464.2 L713.1 469.8 L715.8 466.5 L718.4 465.6 L721.1 463.5 L723.7 460.8 L726.4 460.9 L729.0 462.6 L731.7 463.8 L734.3 462.5 L737.0 461.2 L739.6 459.4 L742.3 456.0 L744.9 456.7 L747.6 457.6 L750.2 459.4 L752.9 461.1 L755.5 465.4 L758.2 467.6 L760.8 465.9 L763.5 466.4 L766.1 460.0 L768.8 454.8 L771.4 450.9 L774.1 450.9 L776.7 450.5 L779.4 454.7 L782.0 457.4 L784.7 459.6 L787.3 460.9 L790.0 463.3 L792.6 464.3 L795.3 462.8 L797.9 462.0 L800.6 463.0 L803.2 464.1 L805.9 465.3 L808.5 466.1 L811.2 464.6 L813.8 464.8 L816.5 464.7 L819.1 464.7 L821.8 466.0 L824.4 467.8 L827.1 468.6 L829.7 468.4 L832.4 470.1 L835.0 471.0 L837.7 470.5 L840.3 470.4 L843.0 470.5 L845.6 469.3 L848.3 470.3 L850.9 471.8 L853.6 472.9 L856.2 473.5 L858.9 473.4 L861.5 473.7 L864.2 471.6 L866.8 468.9 L869.5 467.8 L872.1 466.5 L874.8 468.4 L877.4 469.2 L880.1 470.8 L882.7 469.9 L885.4 468.9 L888.0 469.8 L890.7 470.2 L893.3 470.9 L896.0 473.5 L898.6 472.8 L901.3 473.3 L903.9 474.6 L906.6 473.2 L909.2 474.0 L911.9 475.1 L914.5 474.0 L917.2 467.9 L919.8 464.3 L922.5 464.2 L925.1 461.8 L927.8 466.2 L930.4 469.0 L933.1 472.5 L935.7 474.3 L938.4 474.2 L941.0 473.8 L943.7 471.5 L946.3 472.5 L949.0 471.7 L951.6 472.3 L954.3 472.1 L956.9 474.0 L959.6 474.1 L962.2 472.3 L964.9 473.5 L967.5 474.8 L970.2 476.2 L972.8 475.8 L975.5 476.4 L978.1 474.4 L980.8 469.1 L983.4 464.1 L986.1 459.5 L988.7 456.7 L991.4 457.1 L994.0 459.7 L996.7 463.5 L999.3 464.8 L1002.0 467.2 L1004.6 469.5 L1007.3 468.0 L1009.9 468.5 L1012.6 467.6 L1015.2 468.9 L1017.9 469.5 L1020.5 470.7 L1023.2 471.7 L1025.8 472.9 L1028.5 474.6 L1031.1 476.4 L1033.8 476.2 L1036.4 477.5 L1039.1 479.6 L1041.7 480.6 L1044.4 480.1 L1047.0 479.5 L1049.7 479.5 L1052.3 478.0 L1055.0 477.8 L1057.6 477.8 L1060.3 479.6 L1062.9 480.2 L1065.6 480.0 L1068.2 480.8 L1070.9 481.3 L1073.5 480.3 L1076.2 481.5 L1078.8 481.2 L1081.5 482.3 L1084.1 482.1 L1086.8 481.9 L1089.4 480.4 L1092.1 477.6 L1094.7 475.9 L1097.4 473.5 L1100.0 472.0 L1102.7 471.6 L1105.3 471.3 L1108.0 472.0 L1110.6 471.0 L1113.3 472.7 L1115.9 469.3 L1118.6 467.7 L1121.2 466.6 L1123.9 467.7 L1126.5 468.5 L1129.2 467.3 L1131.8 469.8 L1134.5 472.7 L1137.1 467.7 L1139.8 463.2 L1142.4 460.9 L1145.1 459.3 L1147.7 458.4 L1150.4 460.5 L1153.0 464.9 L1155.7 471.0" fill="none" stroke="#ff30ff" stroke-width="1.5" stroke-linejoin="round"/>
<rect x="1157.5" y="387.5" width="48" height="62" fill="#fff" stroke="#e2e2e2" stroke-width="1"/>
<rect x="97" y="74" width="1060" height="278.4" fill="none" stroke="#858585" stroke-width="1.2"/>
<path d="M97 543V387.4M1157 387.4V543" fill="none" stroke="#858585" stroke-width="1.2"/>
<path d="M97 387.4H1157M97 422.1H1157" fill="none" stroke="#8f8f8f" stroke-width="1"/>
<text x="90.6" y="80.1" font-family="Liberation Sans, sans-serif" font-size="14.3" fill="#404040" text-anchor="end">3643.92</text>
<text x="90.6" y="114.0" font-family="Liberation Sans, sans-serif" font-size="14.3" fill="#404040" text-anchor="end">3487.11</text>
<text x="90.6" y="148.8" font-family="Liberation Sans, sans-serif" font-size="14.3" fill="#404040" text-anchor="end">3330.31</text>
<text x="90.6" y="183.7" font-family="Liberation Sans, sans-serif" font-size="14.3" fill="#404040" text-anchor="end">3173.50</text>
<text x="90.6" y="218.6" font-family="Liberation Sans, sans-serif" font-size="14.3" fill="#404040" text-anchor="end">3016.69</text>
<text x="90.6" y="253.5" font-family="Liberation Sans, sans-serif" font-size="14.3" fill="#404040" text-anchor="end">2859.89</text>
<text x="90.6" y="288.4" font-family="Liberation Sans, sans-serif" font-size="14.3" fill="#404040" text-anchor="end">2703.08</text>
<text x="90.6" y="323.2" font-family="Liberation Sans, sans-serif" font-size="14.3" fill="#404040" text-anchor="end">2546.27</text>
<text x="90.6" y="358.1" font-family="Liberation Sans, sans-serif" font-size="14.3" fill="#404040" text-anchor="end">2389.46</text>
<text x="90.8" y="530.8" font-family="Liberation Sans, sans-serif" font-size="14.3" fill="#404040" text-anchor="end">0.00</text>
<text x="75.4" y="427.1" font-family="'Liberation Sans', 'Noto Sans CJK SC', sans-serif" font-size="13.8" fill="#404040" text-anchor="start">万</text>
<text x="75.5" y="427.1" font-family="Liberation Sans, sans-serif" font-size="14.3" fill="#404040" text-anchor="end">2.82</text>
<text x="75.4" y="462.1" font-family="'Liberation Sans', 'Noto Sans CJK SC', sans-serif" font-size="13.8" fill="#404040" text-anchor="start">万</text>
<text x="75.5" y="462.1" font-family="Liberation Sans, sans-serif" font-size="14.3" fill="#404040" text-anchor="end">1.88</text>
<text x="75.4" y="497.1" font-family="'Liberation Sans', 'Noto Sans CJK SC', sans-serif" font-size="13.8" fill="#404040" text-anchor="start">万</text>
<text x="75.5" y="497.1" font-family="Liberation Sans, sans-serif" font-size="14.3" fill="#404040" text-anchor="end">9416</text>
<text x="97.7" y="375.0" font-family="Liberation Sans, sans-serif" font-size="14.2" fill="#404040" text-anchor="start">2017-03-14</text>
<text x="362.5" y="375.0" font-family="Liberation Sans, sans-serif" font-size="14.2" fill="#404040" text-anchor="middle">2017-08-08</text>
<text x="627.5" y="375.0" font-family="Liberation Sans, sans-serif" font-size="14.2" fill="#404040" text-anchor="middle">2018-01-03</text>
<text x="892.5" y="375.0" font-family="Liberation Sans, sans-serif" font-size="14.2" fill="#404040" text-anchor="middle">2018-06-05</text>
<text x="1157.0" y="375.0" font-family="Liberation Sans, sans-serif" font-size="14.2" fill="#404040" text-anchor="end">2018-10-31</text>
<text x="109.5" y="62.3" font-family="'Liberation Sans', 'Noto Sans CJK SC', sans-serif" font-size="14.2" fill="#404040" text-anchor="start" textLength="56.8" lengthAdjust="spacingAndGlyphs">上证指数</text>
<text x="166.6" y="62.3" font-family="Liberation Sans, sans-serif" font-size="14.5" fill="#404040" text-anchor="start" textLength="60.4" lengthAdjust="spacingAndGlyphs">[000001]</text>
<text x="233.2" y="62.3" font-family="Liberation Sans, sans-serif" font-size="14.5" fill="#2a2aff" text-anchor="start" textLength="93.0" lengthAdjust="spacingAndGlyphs">MA5: 2601.46</text>
<text x="333.8" y="62.3" font-family="Liberation Sans, sans-serif" font-size="14.5" fill="#222" text-anchor="start" textLength="101.2" lengthAdjust="spacingAndGlyphs">MA10: 2577.66</text>
<text x="442.8" y="62.3" font-family="Liberation Sans, sans-serif" font-size="14.5" fill="#ff2a2a" text-anchor="start" textLength="101.5" lengthAdjust="spacingAndGlyphs">MA20: 2662.56</text>
<text x="551.5" y="62.3" font-family="Liberation Sans, sans-serif" font-size="14.5" fill="#1e8a28" text-anchor="start" textLength="101.5" lengthAdjust="spacingAndGlyphs">MA30: 2669.55</text>
<text x="109.2" y="414.0" font-family="Liberation Sans, sans-serif" font-size="14.5" fill="#ff58ff" text-anchor="start" textLength="121.5" lengthAdjust="spacingAndGlyphs">VOLUME: 5297.32</text>
<text x="231.0" y="414.0" font-family="'Liberation Sans', 'Noto Sans CJK SC', sans-serif" font-size="14" fill="#ff58ff" text-anchor="start">万</text>
<text x="252.5" y="414.0" font-family="Liberation Sans, sans-serif" font-size="14.5" fill="#4a8fe0" text-anchor="start" textLength="67.5" lengthAdjust="spacingAndGlyphs">MA5: 1.35</text>
<text x="320.3" y="414.0" font-family="'Liberation Sans', 'Noto Sans CJK SC', sans-serif" font-size="14" fill="#4a8fe0" text-anchor="start">亿</text>
<text x="342.4" y="414.0" font-family="Liberation Sans, sans-serif" font-size="14.5" fill="#f6bf26" text-anchor="start" textLength="76.5" lengthAdjust="spacingAndGlyphs">MA10: 1.50</text>
<text x="419.3" y="414.0" font-family="'Liberation Sans', 'Noto Sans CJK SC', sans-serif" font-size="14" fill="#f6bf26" text-anchor="start">亿</text>
<text x="108.9" y="548.2" font-family="Liberation Sans, sans-serif" font-size="14.5" fill="#333" text-anchor="start" textLength="74.0" lengthAdjust="spacingAndGlyphs">RSI6: 48.42</text>
<text x="190.4" y="548.2" font-family="Liberation Sans, sans-serif" font-size="14.5" fill="#ff20ff" text-anchor="start" textLength="82.8" lengthAdjust="spacingAndGlyphs">RSI12: 45.10</text>
<text x="280.5" y="548.2" font-family="Liberation Sans, sans-serif" font-size="14.5" fill="#888" text-anchor="start" textLength="80.0" lengthAdjust="spacingAndGlyphs">RSI24: 44.16</text>
<rect x="29.4" y="7.5" width="421.2" height="25" fill="#fff" stroke="#2f5796" stroke-width="1.2"/>
<rect x="123.0" y="7.5" width="46.8" height="25" fill="#2f5796"/>
<line x1="76.2" y1="7.5" x2="76.2" y2="32.5" stroke="#2f5796" stroke-width="1.2"/>
<line x1="123.0" y1="7.5" x2="123.0" y2="32.5" stroke="#2f5796" stroke-width="1.2"/>
<line x1="169.8" y1="7.5" x2="169.8" y2="32.5" stroke="#2f5796" stroke-width="1.2"/>
<line x1="216.6" y1="7.5" x2="216.6" y2="32.5" stroke="#2f5796" stroke-width="1.2"/>
<line x1="263.4" y1="7.5" x2="263.4" y2="32.5" stroke="#2f5796" stroke-width="1.2"/>
<line x1="310.2" y1="7.5" x2="310.2" y2="32.5" stroke="#2f5796" stroke-width="1.2"/>
<line x1="357.0" y1="7.5" x2="357.0" y2="32.5" stroke="#2f5796" stroke-width="1.2"/>
<line x1="403.8" y1="7.5" x2="403.8" y2="32.5" stroke="#2f5796" stroke-width="1.2"/>
<text x="38.4" y="25.0" font-family="'Liberation Serif', 'Noto Serif CJK SC', serif" font-size="13.8" fill="#404040" text-anchor="start" textLength="27.8" lengthAdjust="spacingAndGlyphs">盘前</text>
<text x="85.2" y="25.0" font-family="'Liberation Serif', 'Noto Serif CJK SC', serif" font-size="13.8" fill="#404040" text-anchor="start" textLength="27.8" lengthAdjust="spacingAndGlyphs">分时</text>
<text x="135.5" y="25.0" font-family="'Liberation Serif', 'Noto Serif CJK SC', serif" font-size="13.8" fill="#fff" text-anchor="start">日</text>
<text x="149.4" y="25.0" font-family="Liberation Serif, sans-serif" font-size="13.8" fill="#fff" text-anchor="start" textLength="7.2" lengthAdjust="spacingAndGlyphs">K</text>
<text x="182.0" y="25.0" font-family="'Liberation Serif', 'Noto Serif CJK SC', serif" font-size="13.8" fill="#404040" text-anchor="start">周</text>
<text x="196.2" y="25.0" font-family="Liberation Serif, sans-serif" font-size="13.8" fill="#404040" text-anchor="start" textLength="7.2" lengthAdjust="spacingAndGlyphs">K</text>
<text x="228.4" y="25.0" font-family="'Liberation Serif', 'Noto Serif CJK SC', serif" font-size="13.8" fill="#404040" text-anchor="start">月</text>
<text x="243.0" y="25.0" font-family="Liberation Serif, sans-serif" font-size="13.8" fill="#404040" text-anchor="start" textLength="7.2" lengthAdjust="spacingAndGlyphs">K</text>
<text x="268.8" y="25.0" font-family="Liberation Serif, sans-serif" font-size="13.8" fill="#404040" text-anchor="start" textLength="7.2" lengthAdjust="spacingAndGlyphs">5</text>
<text x="275.9" y="25.0" font-family="'Liberation Serif', 'Noto Serif CJK SC', serif" font-size="13.8" fill="#404040" text-anchor="start" textLength="27.8" lengthAdjust="spacingAndGlyphs">分钟</text>
<text x="312.1" y="25.0" font-family="Liberation Serif, sans-serif" font-size="13.8" fill="#404040" text-anchor="start" textLength="14.2" lengthAdjust="spacingAndGlyphs">15</text>
<text x="326.2" y="25.0" font-family="'Liberation Serif', 'Noto Serif CJK SC', serif" font-size="13.8" fill="#404040" text-anchor="start" textLength="27.8" lengthAdjust="spacingAndGlyphs">分钟</text>
<text x="358.9" y="25.0" font-family="Liberation Serif, sans-serif" font-size="13.8" fill="#404040" text-anchor="start" textLength="14.2" lengthAdjust="spacingAndGlyphs">30</text>
<text x="373.0" y="25.0" font-family="'Liberation Serif', 'Noto Serif CJK SC', serif" font-size="13.8" fill="#404040" text-anchor="start" textLength="27.8" lengthAdjust="spacingAndGlyphs">分钟</text>
<text x="405.7" y="25.0" font-family="Liberation Serif, sans-serif" font-size="13.8" fill="#404040" text-anchor="start" textLength="14.2" lengthAdjust="spacingAndGlyphs">60</text>
<text x="419.8" y="25.0" font-family="'Liberation Serif', 'Noto Serif CJK SC', serif" font-size="13.8" fill="#404040" text-anchor="start" textLength="27.8" lengthAdjust="spacingAndGlyphs">分钟</text>
<rect x="1005" y="7.2" width="62.8" height="25.4" fill="#2f5796"/>
<rect x="1074" y="7.2" width="62" height="25.4" fill="#2f5796"/>
<text x="1011.9" y="25.0" font-family="'Liberation Serif', 'Noto Serif CJK SC', serif" font-size="13.8" fill="#fff" text-anchor="start" textLength="27.8" lengthAdjust="spacingAndGlyphs">拉长</text>
<text x="1039.9" y="25.0" font-family="Liberation Serif, sans-serif" font-size="13.8" fill="#fff" text-anchor="start" textLength="7.2" lengthAdjust="spacingAndGlyphs">K</text>
<text x="1047.0" y="25.0" font-family="'Liberation Serif', 'Noto Serif CJK SC', serif" font-size="13.8" fill="#fff" text-anchor="start">线</text>
<text x="1080.6" y="25.0" font-family="'Liberation Serif', 'Noto Serif CJK SC', serif" font-size="13.8" fill="#fff" text-anchor="start" textLength="27.8" lengthAdjust="spacingAndGlyphs">缩短</text>
<text x="1108.5" y="25.0" font-family="Liberation Serif, sans-serif" font-size="13.8" fill="#fff" text-anchor="start" textLength="7.2" lengthAdjust="spacingAndGlyphs">K</text>
<text x="1115.6" y="25.0" font-family="'Liberation Serif', 'Noto Serif CJK SC', serif" font-size="13.8" fill="#fff" text-anchor="start">线</text>
<rect x="1148.3" y="7.8" width="75" height="22.6" fill="#fff" stroke="#2f5796" stroke-width="1.1"/>
<rect x="1206" y="7.8" width="12" height="22.6" fill="#2f5796"/>
<path d="M1211.3 16.4h8.4l-4.2 5.6z" fill="#fff"/>
<text x="1156.8" y="23.4" font-family="'Liberation Sans', 'Noto Sans CJK SC', sans-serif" font-size="14" fill="#404040" text-anchor="start" textLength="42.4" lengthAdjust="spacingAndGlyphs">不复权</text>
<text x="1163.4" y="93.0" font-family="'Liberation Sans', 'Noto Sans CJK SC', sans-serif" font-size="13.8" fill="#404040" text-anchor="start" textLength="55.4" lengthAdjust="spacingAndGlyphs">主图指标</text>
<rect x="1163.6" y="113.5" width="12.8" height="13.2" fill="#fff" stroke="#2f5796" stroke-width="1.1"/>
<rect x="1163.6" y="149.7" width="12.8" height="13.2" fill="#fff" stroke="#2f5796" stroke-width="1.1"/>
<rect x="1163.6" y="184.8" width="12.8" height="13.2" fill="#fff" stroke="#2f5796" stroke-width="1.1"/>
<rect x="1163.6" y="219.9" width="12.8" height="13.2" fill="#fff" stroke="#2f5796" stroke-width="1.1"/>
<rect x="1163.6" y="255.0" width="12.8" height="13.2" fill="#fff" stroke="#2f5796" stroke-width="1.1"/>
<rect x="1166.3" y="116.6" width="7.4" height="7.4" fill="#2f5796"/>
<text x="1186.7" y="122.2" font-family="'Liberation Serif', 'Noto Serif CJK SC', serif" font-size="13.5" fill="#404040" text-anchor="start" textLength="27" lengthAdjust="spacingAndGlyphs">均线</text>
<text x="1190.2 1197.0 1203.7 1210.5 1217.2" y="157.2" font-family="Liberation Serif, serif" font-size="12.6" fill="#404040" text-anchor="middle">EXPMA</text>
<text x="1190.2 1197.0 1203.7" y="192.3" font-family="Liberation Serif, serif" font-size="12.6" fill="#404040" text-anchor="middle">SAR</text>
<text x="1190.2 1197.0 1203.7 1210.5" y="227.4" font-family="Liberation Serif, serif" font-size="12.6" fill="#404040" text-anchor="middle">BOLL</text>
<text x="1190.2 1197.0 1203.7" y="262.5" font-family="Liberation Serif, serif" font-size="12.6" fill="#404040" text-anchor="middle">BBI</text>
<text x="1165.9" y="412.1" font-family="'Liberation Serif', 'Noto Serif CJK SC', serif" font-size="14" fill="#404040" text-anchor="start" textLength="28.4" lengthAdjust="spacingAndGlyphs">均线</text>
<text x="1165.9" y="436.7" font-family="'Liberation Serif', 'Noto Serif CJK SC', serif" font-size="14" fill="#404040" text-anchor="start" textLength="28.4" lengthAdjust="spacingAndGlyphs">设置</text>
</svg>
</body></html>
